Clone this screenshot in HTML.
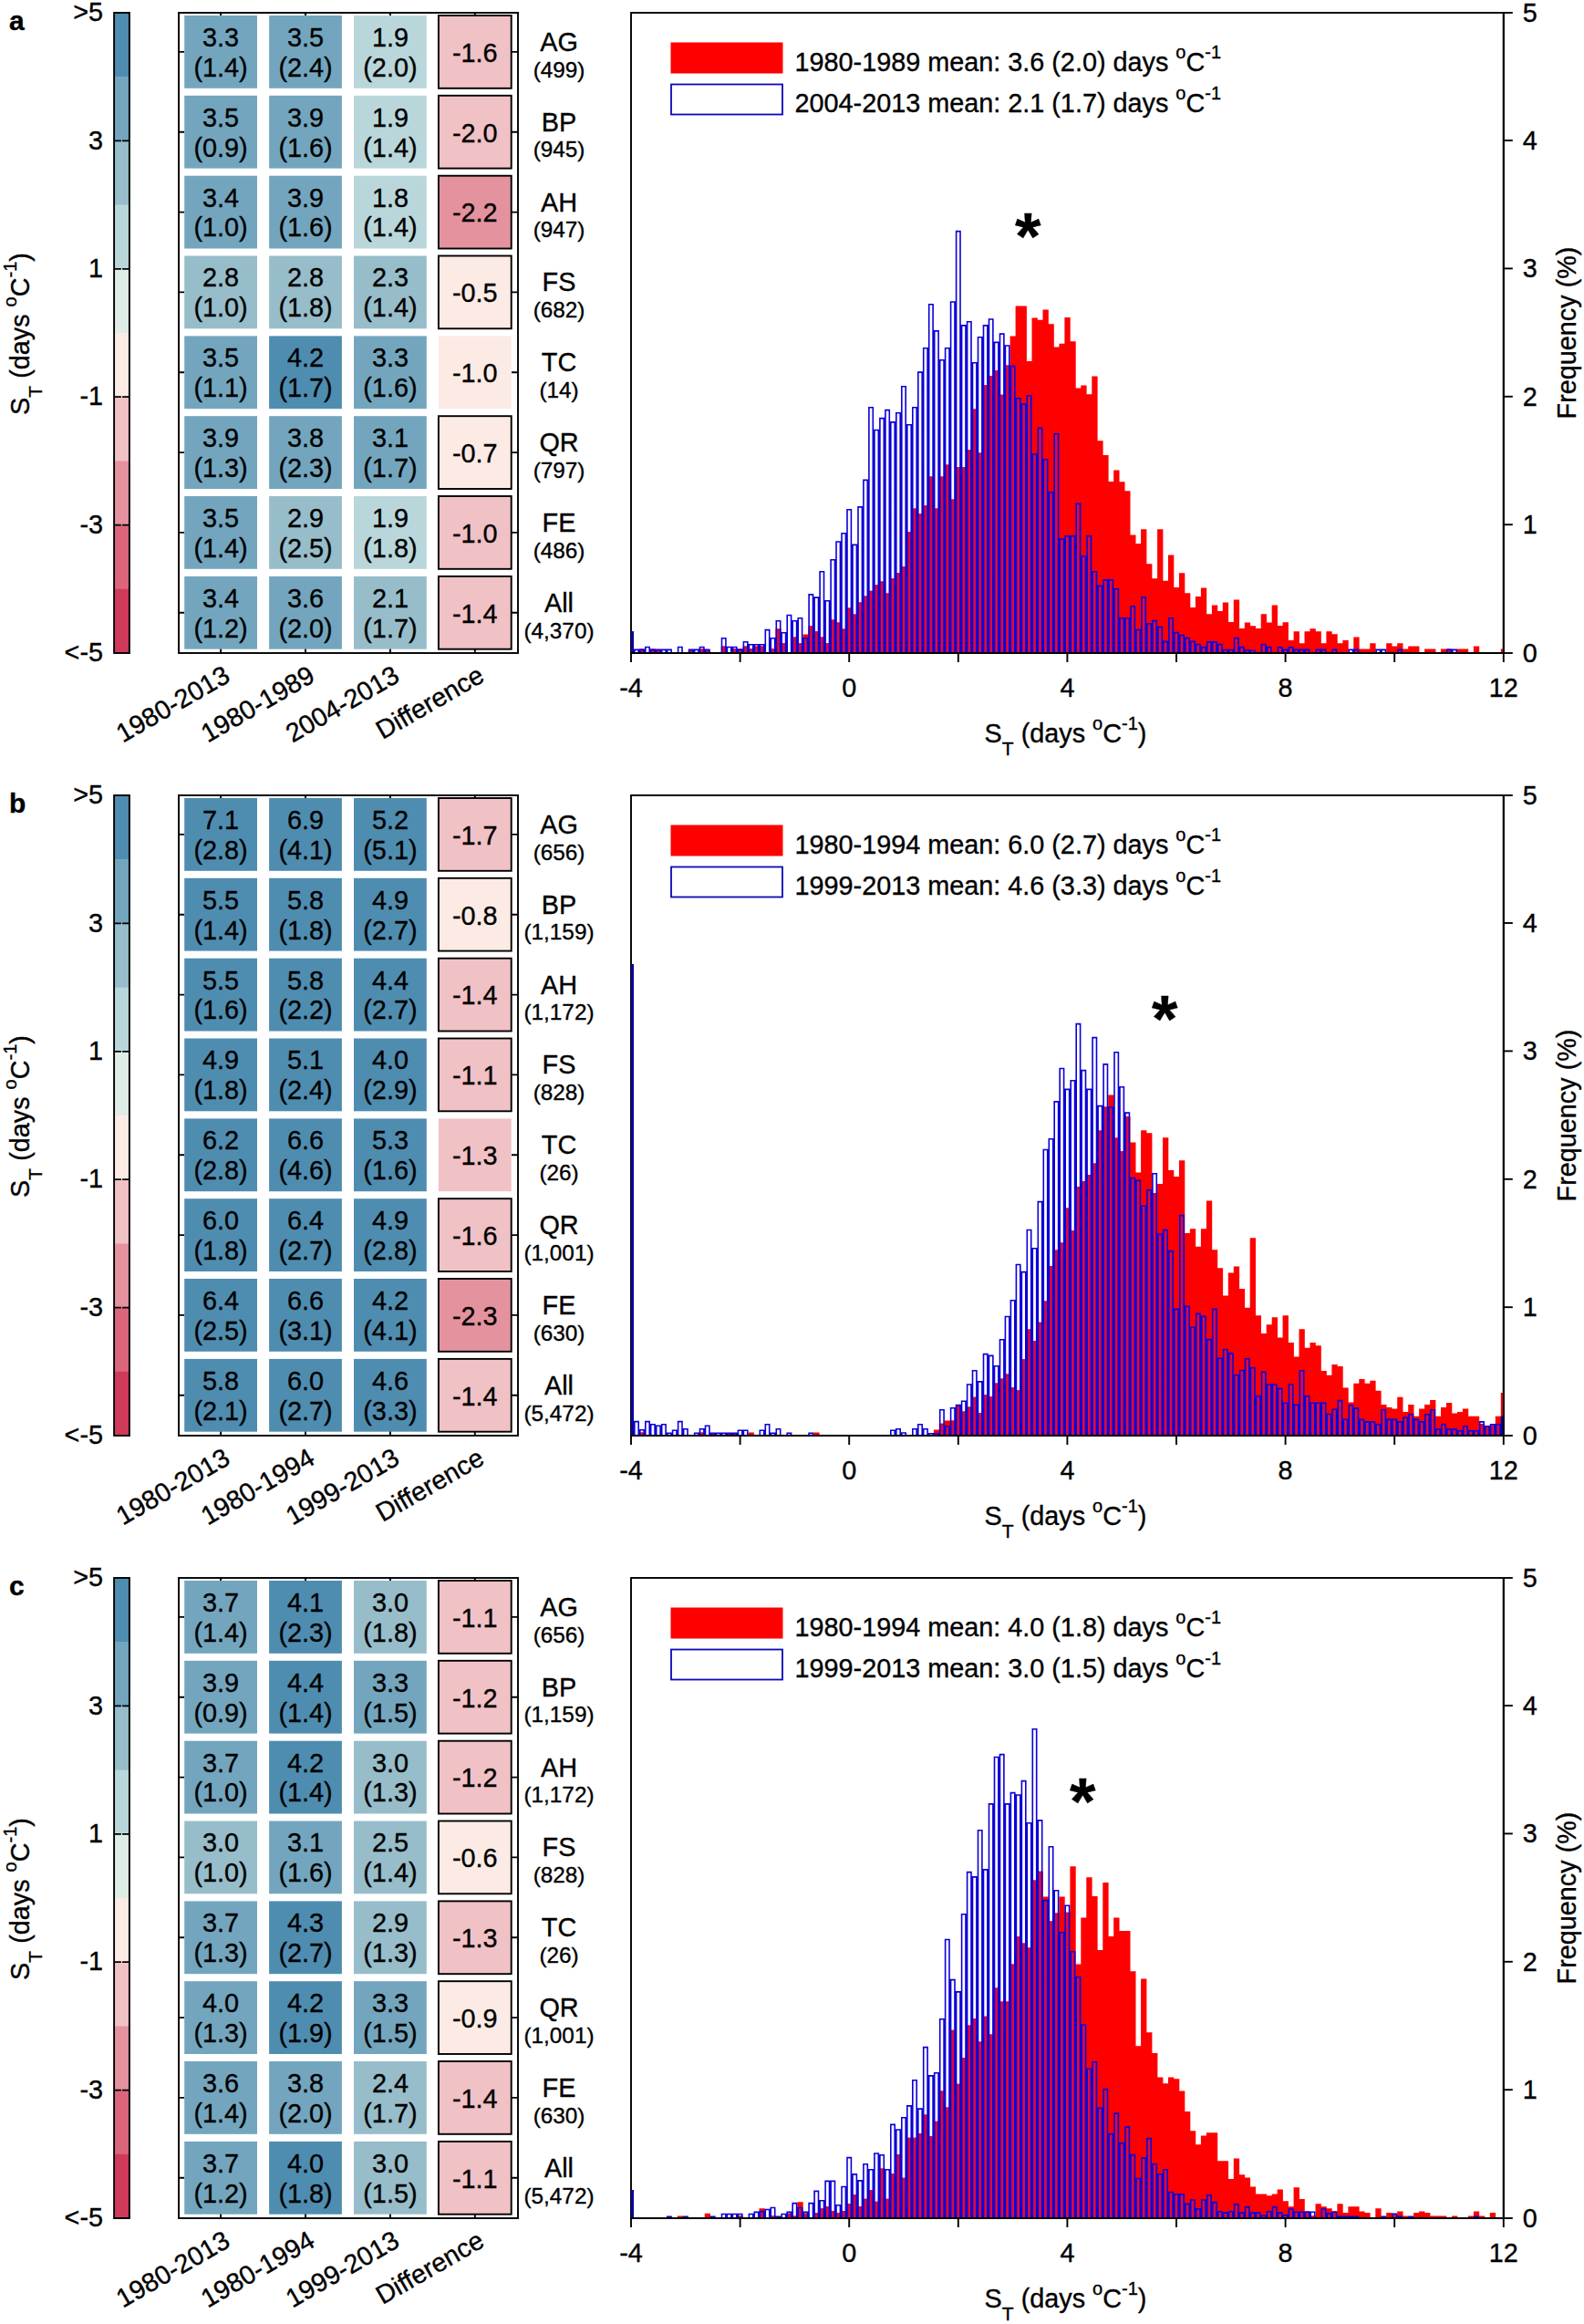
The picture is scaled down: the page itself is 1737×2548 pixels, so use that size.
<!DOCTYPE html><html><head><meta charset="utf-8"><title>Figure</title><style>html,body{margin:0;padding:0;background:#fff}svg{display:block}text{font-family:"Liberation Sans",Arial,sans-serif;font-size:28.8px;fill:#000;stroke:#000;stroke-width:.35px}.s{font-size:24.3px}.b{font-weight:bold}.k{stroke:#000;stroke-width:1.9;fill:none}</style></head><body>
<svg width="1737" height="2548" viewBox="0 0 1737 2548">
<rect width="1737" height="2548" fill="#fff"/>
<g>
<text class="b" x="10" y="32.5" style="font-size:30px">a</text>
<rect x="125.1" y="14.0" width="16.8" height="70.7" fill="#4f8db0"/>
<rect x="125.1" y="84.2" width="16.8" height="70.7" fill="#73a6be"/>
<rect x="125.1" y="154.4" width="16.8" height="70.7" fill="#97bdca"/>
<rect x="125.1" y="224.6" width="16.8" height="70.7" fill="#b9d7db"/>
<rect x="125.1" y="294.8" width="16.8" height="70.7" fill="#deede6"/>
<rect x="125.1" y="365.0" width="16.8" height="70.7" fill="#fcebe4"/>
<rect x="125.1" y="435.2" width="16.8" height="70.7" fill="#f0c1c5"/>
<rect x="125.1" y="505.4" width="16.8" height="70.7" fill="#e5929f"/>
<rect x="125.1" y="575.6" width="16.8" height="70.7" fill="#db667c"/>
<rect x="125.1" y="645.8" width="16.8" height="70.7" fill="#d03a5a"/>
<rect class="k" x="125.1" y="14" width="16.8" height="702"/>
<text x="113" y="23.2" text-anchor="end">&gt;5</text>
<path class="k" d="M125.1 154.4h7.8M141.9 154.4h-7.8" style="stroke-width:1.7"/>
<text x="113" y="163.6" text-anchor="end">3</text>
<path class="k" d="M125.1 294.8h7.8M141.9 294.8h-7.8" style="stroke-width:1.7"/>
<text x="113" y="304.0" text-anchor="end">1</text>
<path class="k" d="M125.1 435.2h7.8M141.9 435.2h-7.8" style="stroke-width:1.7"/>
<text x="113" y="444.4" text-anchor="end">-1</text>
<path class="k" d="M125.1 575.6h7.8M141.9 575.6h-7.8" style="stroke-width:1.7"/>
<text x="113" y="584.8" text-anchor="end">-3</text>
<text x="113" y="725.2" text-anchor="end">&lt;-5</text>
<text transform="translate(31.5 366) rotate(-90)" text-anchor="middle">S<tspan dy="14" style="font-size:21px">T</tspan><tspan dy="-14"> (days </tspan><tspan dy="-14" style="font-size:20px">o</tspan><tspan dy="14">C</tspan><tspan dy="-14" style="font-size:20px">-1</tspan><tspan dy="14">)</tspan></text>
<rect class="k" x="196.0" y="14" width="372.0" height="702"/>
<path class="k" d="M242.1 14v6M242.1 716v-6"/>
<text transform="translate(254.1 746) rotate(-30)" text-anchor="end">1980-2013</text>
<path class="k" d="M196.0 56.9h6M568.0 56.9h-7"/>
<text x="613" y="55.8" text-anchor="middle">AG</text>
<text class="s" x="613" y="84.6" text-anchor="middle">(499)</text>
<rect x="202.2" y="17.0" width="79.8" height="79.8" fill="#73a6be"/>
<text x="242.1" y="50.8" text-anchor="middle">3.3</text>
<text x="242.1" y="83.7" text-anchor="middle">(1.4)</text>
<path class="k" d="M196.0 144.7h6M568.0 144.7h-7"/>
<text x="613" y="143.6" text-anchor="middle">BP</text>
<text class="s" x="613" y="172.4" text-anchor="middle">(945)</text>
<rect x="202.2" y="104.8" width="79.8" height="79.8" fill="#73a6be"/>
<text x="242.1" y="138.6" text-anchor="middle">3.5</text>
<text x="242.1" y="171.5" text-anchor="middle">(0.9)</text>
<path class="k" d="M196.0 232.6h6M568.0 232.6h-7"/>
<text x="613" y="231.5" text-anchor="middle">AH</text>
<text class="s" x="613" y="260.3" text-anchor="middle">(947)</text>
<rect x="202.2" y="192.7" width="79.8" height="79.8" fill="#73a6be"/>
<text x="242.1" y="226.5" text-anchor="middle">3.4</text>
<text x="242.1" y="259.4" text-anchor="middle">(1.0)</text>
<path class="k" d="M196.0 320.4h6M568.0 320.4h-7"/>
<text x="613" y="319.3" text-anchor="middle">FS</text>
<text class="s" x="613" y="348.1" text-anchor="middle">(682)</text>
<rect x="202.2" y="280.5" width="79.8" height="79.8" fill="#97bdca"/>
<text x="242.1" y="314.3" text-anchor="middle">2.8</text>
<text x="242.1" y="347.2" text-anchor="middle">(1.0)</text>
<path class="k" d="M196.0 408.3h6M568.0 408.3h-7"/>
<text x="613" y="407.2" text-anchor="middle">TC</text>
<text class="s" x="613" y="436.0" text-anchor="middle">(14)</text>
<rect x="202.2" y="368.4" width="79.8" height="79.8" fill="#73a6be"/>
<text x="242.1" y="402.2" text-anchor="middle">3.5</text>
<text x="242.1" y="435.1" text-anchor="middle">(1.1)</text>
<path class="k" d="M196.0 496.1h6M568.0 496.1h-7"/>
<text x="613" y="495.0" text-anchor="middle">QR</text>
<text class="s" x="613" y="523.8" text-anchor="middle">(797)</text>
<rect x="202.2" y="456.2" width="79.8" height="79.8" fill="#73a6be"/>
<text x="242.1" y="490.0" text-anchor="middle">3.9</text>
<text x="242.1" y="522.9" text-anchor="middle">(1.3)</text>
<path class="k" d="M196.0 583.9h6M568.0 583.9h-7"/>
<text x="613" y="582.8" text-anchor="middle">FE</text>
<text class="s" x="613" y="611.6" text-anchor="middle">(486)</text>
<rect x="202.2" y="544.0" width="79.8" height="79.8" fill="#73a6be"/>
<text x="242.1" y="577.8" text-anchor="middle">3.5</text>
<text x="242.1" y="610.7" text-anchor="middle">(1.4)</text>
<path class="k" d="M196.0 671.8h6M568.0 671.8h-7"/>
<text x="613" y="670.7" text-anchor="middle">All</text>
<text class="s" x="613" y="699.5" text-anchor="middle">(4,370)</text>
<rect x="202.2" y="631.9" width="79.8" height="79.8" fill="#73a6be"/>
<text x="242.1" y="665.7" text-anchor="middle">3.4</text>
<text x="242.1" y="698.6" text-anchor="middle">(1.2)</text>
<path class="k" d="M335.0 14v6M335.0 716v-6"/>
<text transform="translate(347.0 746) rotate(-30)" text-anchor="end">1980-1989</text>
<rect x="295.1" y="17.0" width="79.8" height="79.8" fill="#73a6be"/>
<text x="335.0" y="50.8" text-anchor="middle">3.5</text>
<text x="335.0" y="83.7" text-anchor="middle">(2.4)</text>
<rect x="295.1" y="104.8" width="79.8" height="79.8" fill="#73a6be"/>
<text x="335.0" y="138.6" text-anchor="middle">3.9</text>
<text x="335.0" y="171.5" text-anchor="middle">(1.6)</text>
<rect x="295.1" y="192.7" width="79.8" height="79.8" fill="#73a6be"/>
<text x="335.0" y="226.5" text-anchor="middle">3.9</text>
<text x="335.0" y="259.4" text-anchor="middle">(1.6)</text>
<rect x="295.1" y="280.5" width="79.8" height="79.8" fill="#97bdca"/>
<text x="335.0" y="314.3" text-anchor="middle">2.8</text>
<text x="335.0" y="347.2" text-anchor="middle">(1.8)</text>
<rect x="295.1" y="368.4" width="79.8" height="79.8" fill="#4f8db0"/>
<text x="335.0" y="402.2" text-anchor="middle">4.2</text>
<text x="335.0" y="435.1" text-anchor="middle">(1.7)</text>
<rect x="295.1" y="456.2" width="79.8" height="79.8" fill="#73a6be"/>
<text x="335.0" y="490.0" text-anchor="middle">3.8</text>
<text x="335.0" y="522.9" text-anchor="middle">(2.3)</text>
<rect x="295.1" y="544.0" width="79.8" height="79.8" fill="#97bdca"/>
<text x="335.0" y="577.8" text-anchor="middle">2.9</text>
<text x="335.0" y="610.7" text-anchor="middle">(2.5)</text>
<rect x="295.1" y="631.9" width="79.8" height="79.8" fill="#73a6be"/>
<text x="335.0" y="665.7" text-anchor="middle">3.6</text>
<text x="335.0" y="698.6" text-anchor="middle">(2.0)</text>
<path class="k" d="M427.9 14v6M427.9 716v-6"/>
<text transform="translate(439.9 746) rotate(-30)" text-anchor="end">2004-2013</text>
<rect x="388.0" y="17.0" width="79.8" height="79.8" fill="#b9d7db"/>
<text x="427.9" y="50.8" text-anchor="middle">1.9</text>
<text x="427.9" y="83.7" text-anchor="middle">(2.0)</text>
<rect x="388.0" y="104.8" width="79.8" height="79.8" fill="#b9d7db"/>
<text x="427.9" y="138.6" text-anchor="middle">1.9</text>
<text x="427.9" y="171.5" text-anchor="middle">(1.4)</text>
<rect x="388.0" y="192.7" width="79.8" height="79.8" fill="#b9d7db"/>
<text x="427.9" y="226.5" text-anchor="middle">1.8</text>
<text x="427.9" y="259.4" text-anchor="middle">(1.4)</text>
<rect x="388.0" y="280.5" width="79.8" height="79.8" fill="#97bdca"/>
<text x="427.9" y="314.3" text-anchor="middle">2.3</text>
<text x="427.9" y="347.2" text-anchor="middle">(1.4)</text>
<rect x="388.0" y="368.4" width="79.8" height="79.8" fill="#73a6be"/>
<text x="427.9" y="402.2" text-anchor="middle">3.3</text>
<text x="427.9" y="435.1" text-anchor="middle">(1.6)</text>
<rect x="388.0" y="456.2" width="79.8" height="79.8" fill="#73a6be"/>
<text x="427.9" y="490.0" text-anchor="middle">3.1</text>
<text x="427.9" y="522.9" text-anchor="middle">(1.7)</text>
<rect x="388.0" y="544.0" width="79.8" height="79.8" fill="#b9d7db"/>
<text x="427.9" y="577.8" text-anchor="middle">1.9</text>
<text x="427.9" y="610.7" text-anchor="middle">(1.8)</text>
<rect x="388.0" y="631.9" width="79.8" height="79.8" fill="#97bdca"/>
<text x="427.9" y="665.7" text-anchor="middle">2.1</text>
<text x="427.9" y="698.6" text-anchor="middle">(1.7)</text>
<path class="k" d="M520.8 14v6M520.8 716v-6"/>
<text transform="translate(532.8 746) rotate(-30)" text-anchor="end">Difference</text>
<rect x="480.9" y="17.0" width="79.8" height="79.8" fill="#f0c1c5" stroke="#000" stroke-width="1.9"/>
<text x="520.8" y="67.7" text-anchor="middle">-1.6</text>
<rect x="480.9" y="104.8" width="79.8" height="79.8" fill="#f0c1c5" stroke="#000" stroke-width="1.9"/>
<text x="520.8" y="155.5" text-anchor="middle">-2.0</text>
<rect x="480.9" y="192.7" width="79.8" height="79.8" fill="#e5929f" stroke="#000" stroke-width="1.9"/>
<text x="520.8" y="243.4" text-anchor="middle">-2.2</text>
<rect x="480.9" y="280.5" width="79.8" height="79.8" fill="#fcebe4" stroke="#000" stroke-width="1.9"/>
<text x="520.8" y="331.2" text-anchor="middle">-0.5</text>
<rect x="480.9" y="368.4" width="79.8" height="79.8" fill="#fcebe4"/>
<text x="520.8" y="419.1" text-anchor="middle">-1.0</text>
<rect x="480.9" y="456.2" width="79.8" height="79.8" fill="#fcebe4" stroke="#000" stroke-width="1.9"/>
<text x="520.8" y="506.9" text-anchor="middle">-0.7</text>
<rect x="480.9" y="544.0" width="79.8" height="79.8" fill="#f0c1c5" stroke="#000" stroke-width="1.9"/>
<text x="520.8" y="594.7" text-anchor="middle">-1.0</text>
<rect x="480.9" y="631.9" width="79.8" height="79.8" fill="#f0c1c5" stroke="#000" stroke-width="1.9"/>
<text x="520.8" y="682.6" text-anchor="middle">-1.4</text>
<rect class="k" x="692.0" y="14" width="956.8" height="702"/>
<clipPath id="cpa"><rect x="692.0" y="14" width="956.8" height="702"/></clipPath>
<g clip-path="url(#cpa)">
<path d="M701.0 716V711.6h6.3V716zM712.9 716V711.6h6.3V716zM718.9 716V713.0h6.3V716zM754.8 716V713.0h6.3V716zM766.8 716V711.6h6.3V716zM772.7 716V713.0h6.3V716zM790.7 716V708.4h6.3V716zM802.6 716V711.3h6.3V716zM808.6 716V711.6h6.3V716zM814.6 716V708.4h6.3V716zM820.6 716V711.3h6.3V716zM826.5 716V708.4h6.3V716zM832.5 716V708.4h6.3V716zM844.5 716V711.3h6.3V716zM850.5 716V689.5h6.3V716zM856.5 716V705.3h6.3V716zM868.4 716V698.6h6.3V716zM874.4 716V705.3h6.3V716zM880.4 716V695.5h6.3V716zM886.4 716V686.3h6.3V716zM892.3 716V692.3h6.3V716zM898.3 716V698.6h6.3V716zM904.3 716V705.3h6.3V716zM910.3 716V679.5h6.3V716zM916.2 716V682.4h6.3V716zM922.2 716V689.5h6.3V716zM928.2 716V666.5h6.3V716zM934.2 716V673.4h6.3V716zM940.2 716V660.5h6.3V716zM946.1 716V653.6h6.3V716zM952.1 716V647.8h6.3V716zM958.1 716V641.3h6.3V716zM964.1 716V637.5h6.3V716zM970.1 716V650.4h6.3V716zM976.0 716V634.2h6.3V716zM982.0 716V628.2h6.3V716zM988.0 716V621.3h6.3V716zM994.0 716V583.3h6.3V716zM1000.0 716V557.4h6.3V716zM1006.0 716V563.2h6.3V716zM1011.9 716V554.2h6.3V716zM1017.9 716V522.4h6.3V716zM1023.9 716V557.4h6.3V716zM1029.9 716V522.4h6.3V716zM1035.8 716V509.5h6.3V716zM1041.8 716V547.5h6.3V716zM1047.8 716V512.3h6.3V716zM1053.8 716V512.3h6.3V716zM1059.8 716V493.3h6.3V716zM1065.8 716V448.6h6.3V716zM1071.7 716V496.6h6.3V716zM1077.7 716V422.3h6.3V716zM1083.7 716V412.2h6.3V716zM1089.7 716V406.2h6.3V716zM1095.7 716V432.7h6.3V716zM1101.6 716V400.4h6.3V716zM1107.6 716V368.5h6.3V716zM1113.6 716V335.6h6.3V716zM1119.6 716V335.6h6.3V716zM1125.5 716V396.1h6.3V716zM1131.5 716V348.5h6.3V716zM1137.5 716V350.7h6.3V716zM1143.5 716V339.5h6.3V716zM1149.5 716V355.2h6.3V716zM1155.5 716V380.4h6.3V716zM1161.4 716V376.8h6.3V716zM1167.4 716V348.1h6.3V716zM1173.4 716V374.2h6.3V716zM1179.4 716V425.4h6.3V716zM1185.3 716V422.4h6.3V716zM1191.3 716V432.3h6.3V716zM1197.3 716V412.5h6.3V716zM1203.3 716V483.2h6.3V716zM1209.3 716V499.1h6.3V716zM1215.2 716V528.0h6.3V716zM1221.2 716V515.4h6.3V716zM1227.2 716V528.3h6.3V716zM1233.2 716V538.3h6.3V716zM1239.2 716V586.4h6.3V716zM1245.2 716V596.0h6.3V716zM1251.1 716V580.3h6.3V716zM1257.1 716V618.2h6.3V716zM1263.1 716V634.2h6.3V716zM1269.1 716V580.3h6.3V716zM1275.0 716V636.8h6.3V716zM1281.0 716V608.4h6.3V716zM1287.0 716V644.0h6.3V716zM1293.0 716V628.2h6.3V716zM1299.0 716V650.2h6.3V716zM1304.9 716V666.1h6.3V716zM1310.9 716V654.0h6.3V716zM1316.9 716V644.5h6.3V716zM1322.9 716V673.3h6.3V716zM1328.9 716V663.5h6.3V716zM1334.8 716V669.9h6.3V716zM1340.8 716V660.6h6.3V716zM1346.8 716V682.1h6.3V716zM1352.8 716V657.5h6.3V716zM1358.8 716V689.0h6.3V716zM1364.8 716V682.4h6.3V716zM1370.7 716V686.2h6.3V716zM1376.7 716V689.0h6.3V716zM1382.7 716V673.3h6.3V716zM1388.7 716V682.4h6.3V716zM1394.7 716V663.5h6.3V716zM1400.6 716V685.9h6.3V716zM1406.6 716V682.2h6.3V716zM1412.6 716V702.1h6.3V716zM1418.6 716V692.2h6.3V716zM1424.5 716V705.2h6.3V716zM1430.5 716V692.2h6.3V716zM1436.5 716V689.2h6.3V716zM1442.5 716V692.2h6.3V716zM1448.5 716V705.2h6.3V716zM1454.4 716V692.2h6.3V716zM1460.4 716V695.2h6.3V716zM1466.4 716V705.2h6.3V716zM1472.4 716V702.1h6.3V716zM1484.3 716V698.4h6.3V716zM1490.3 716V711.6h6.3V716zM1496.3 716V711.6h6.3V716zM1502.3 716V705.2h6.3V716zM1520.2 716V705.2h6.3V716zM1526.2 716V708.4h6.3V716zM1532.2 716V705.2h6.3V716zM1538.2 716V711.6h6.3V716zM1544.2 716V708.4h6.3V716zM1550.1 716V708.4h6.3V716zM1562.1 716V711.6h6.3V716zM1568.1 716V711.6h6.3V716zM1580.0 716V711.6h6.3V716zM1586.0 716V711.6h6.3V716zM1598.0 716V711.6h6.3V716zM1603.9 716V711.6h6.3V716zM1615.9 716V708.4h6.3V716zM1645.8 716V711.6h6.3V716z" fill="#fe0000"/>
<path d="M702.5 716V711.6h3.0V716zM714.4 716V711.6h3.0V716zM720.4 716V713.0h3.0V716zM756.3 716V713.0h3.0V716zM768.2 716V711.6h3.0V716zM774.2 716V713.0h3.0V716zM792.2 716V708.4h3.0V716zM804.1 716V711.3h3.0V716zM810.1 716V711.6h3.0V716zM816.1 716V708.4h3.0V716zM822.1 716V711.3h3.0V716zM828.0 716V708.4h3.0V716zM834.0 716V708.4h3.0V716zM846.0 716V711.3h3.0V716zM852.0 716V689.5h3.0V716zM858.0 716V705.3h3.0V716zM869.9 716V698.6h3.0V716zM875.9 716V705.3h3.0V716zM881.9 716V699.0h3.0V716zM887.9 716V686.3h3.0V716zM893.8 716V692.3h3.0V716zM899.8 716V698.6h3.0V716zM905.8 716V705.3h3.0V716zM911.8 716V679.5h3.0V716zM917.8 716V682.4h3.0V716zM923.7 716V689.5h3.0V716zM929.7 716V666.5h3.0V716zM935.7 716V673.4h3.0V716zM941.7 716V660.5h3.0V716zM947.6 716V653.6h3.0V716zM953.6 716V647.8h3.0V716zM959.6 716V641.3h3.0V716zM965.6 716V637.5h3.0V716zM971.6 716V650.4h3.0V716zM977.5 716V634.2h3.0V716zM983.5 716V628.2h3.0V716zM989.5 716V621.3h3.0V716zM995.5 716V583.3h3.0V716zM1001.5 716V557.4h3.0V716zM1007.5 716V563.2h3.0V716zM1013.4 716V554.2h3.0V716zM1019.4 716V522.4h3.0V716zM1025.4 716V557.4h3.0V716zM1031.4 716V522.4h3.0V716zM1037.3 716V509.5h3.0V716zM1043.3 716V547.5h3.0V716zM1049.3 716V512.3h3.0V716zM1055.3 716V512.3h3.0V716zM1061.3 716V493.3h3.0V716zM1067.2 716V448.6h3.0V716zM1073.2 716V496.6h3.0V716zM1079.2 716V422.3h3.0V716zM1085.2 716V412.2h3.0V716zM1091.2 716V406.2h3.0V716zM1097.2 716V432.7h3.0V716zM1103.1 716V400.4h3.0V716zM1109.1 716V400.8h3.0V716zM1115.1 716V435.9h3.0V716zM1121.1 716V442.3h3.0V716zM1127.0 716V433.1h3.0V716zM1133.0 716V497.2h3.0V716zM1139.0 716V468.6h3.0V716zM1145.0 716V503.0h3.0V716zM1151.0 716V539.1h3.0V716zM1157.0 716V475.0h3.0V716zM1162.9 716V590.3h3.0V716zM1168.9 716V586.9h3.0V716zM1174.9 716V586.9h3.0V716zM1180.9 716V551.6h3.0V716zM1186.8 716V609.3h3.0V716zM1192.8 716V586.9h3.0V716zM1198.8 716V626.0h3.0V716zM1204.8 716V641.6h3.0V716zM1210.8 716V635.1h3.0V716zM1216.8 716V635.1h3.0V716zM1222.7 716V644.9h3.0V716zM1228.7 716V676.9h3.0V716zM1234.7 716V676.9h3.0V716zM1240.7 716V664.0h3.0V716zM1246.7 716V689.7h3.0V716zM1252.6 716V654.0h3.0V716zM1258.6 716V682.9h3.0V716zM1264.6 716V679.8h3.0V716zM1270.6 716V686.7h3.0V716zM1276.5 716V702.6h3.0V716zM1282.5 716V676.9h3.0V716zM1288.5 716V692.8h3.0V716zM1294.5 716V695.7h3.0V716zM1300.5 716V698.8h3.0V716zM1306.4 716V702.6h3.0V716zM1312.4 716V705.7h3.0V716zM1318.4 716V708.8h3.0V716zM1324.4 716V703.1h3.0V716zM1330.4 716V703.1h3.0V716zM1336.3 716V705.7h3.0V716zM1342.3 716V711.7h3.0V716zM1348.3 716V711.7h3.0V716zM1354.3 716V698.8h3.0V716zM1360.3 716V708.8h3.0V716zM1366.2 716V712.2h3.0V716zM1372.2 716V712.2h3.0V716zM1384.2 716V705.7h3.0V716zM1390.2 716V708.8h3.0V716zM1402.1 716V709.0h3.0V716zM1408.1 716V711.6h3.0V716zM1414.1 716V709.0h3.0V716zM1420.1 716V711.6h3.0V716zM1426.0 716V711.6h3.0V716zM1432.0 716V711.6h3.0V716zM1444.0 716V711.6h3.0V716zM1450.0 716V711.6h3.0V716zM1461.9 716V711.6h3.0V716zM1485.8 716V711.6h3.0V716zM1533.7 716V711.6h3.0V716zM1587.5 716V711.6h3.0V716z" fill="#dc0a3c"/>
<path d="M689.8 716V693.1h4.4V716M695.8 716V712.4h4.4V716M701.8 716V712.4h4.4V716M707.8 716V709.5h4.4V716M713.7 716V712.4h4.4V716M719.7 716V712.4h4.4V716M725.7 716V712.4h4.4V716M731.7 716V712.4h4.4V716M743.6 716V709.5h4.4V716M755.6 716V712.4h4.4V716M761.6 716V712.4h4.4V716M767.5 716V709.5h4.4V716M773.5 716V712.4h4.4V716M791.5 716V699.8h4.4V716M797.4 716V709.5h4.4V716M803.4 716V709.5h4.4V716M809.4 716V712.4h4.4V716M815.4 716V703.7h4.4V716M821.4 716V706.8h4.4V716M827.3 716V706.8h4.4V716M833.3 716V706.8h4.4V716M839.3 716V690.6h4.4V716M845.3 716V699.8h4.4V716M851.3 716V680.8h4.4V716M857.2 716V693.8h4.4V716M863.2 716V674.5h4.4V716M869.2 716V680.8h4.4V716M875.2 716V677.7h4.4V716M881.2 716V699.8h4.4V716M887.1 716V651.9h4.4V716M893.1 716V655.1h4.4V716M899.1 716V626.7h4.4V716M905.1 716V658.8h4.4V716M911.1 716V613.8h4.4V716M917.0 716V594.0h4.4V716M923.0 716V584.8h4.4V716M929.0 716V558.7h4.4V716M935.0 716V597.4h4.4V716M941.0 716V555.9h4.4V716M946.9 716V526.4h4.4V716M952.9 716V446.8h4.4V716M958.9 716V471.5h4.4V716M964.9 716V458.6h4.4V716M970.9 716V449.6h4.4V716M976.8 716V462.9h4.4V716M982.8 716V452.8h4.4V716M988.8 716V423.8h4.4V716M994.8 716V465.7h4.4V716M1000.8 716V446.8h4.4V716M1006.8 716V408.1h4.4V716M1012.7 716V381.8h4.4V716M1018.7 716V333.8h4.4V716M1024.7 716V362.9h4.4V716M1030.7 716V394.7h4.4V716M1036.6 716V381.8h4.4V716M1042.6 716V331.0h4.4V716M1048.6 716V253.6h4.4V716M1054.6 716V356.9h4.4V716M1060.6 716V352.8h4.4V716M1066.5 716V397.7h4.4V716M1072.5 716V369.8h4.4V716M1078.5 716V356.9h4.4V716M1084.5 716V350.0h4.4V716M1090.5 716V375.4h4.4V716M1096.5 716V366.1h4.4V716M1102.4 716V379.0h4.4V716M1108.4 716V401.6h4.4V716M1114.4 716V436.7h4.4V716M1120.4 716V443.1h4.4V716M1126.3 716V433.9h4.4V716M1132.3 716V498.0h4.4V716M1138.3 716V469.4h4.4V716M1144.3 716V503.8h4.4V716M1150.3 716V539.9h4.4V716M1156.2 716V475.8h4.4V716M1162.2 716V591.1h4.4V716M1168.2 716V587.7h4.4V716M1174.2 716V587.7h4.4V716M1180.2 716V552.4h4.4V716M1186.1 716V610.1h4.4V716M1192.1 716V587.7h4.4V716M1198.1 716V626.8h4.4V716M1204.1 716V642.4h4.4V716M1210.1 716V635.9h4.4V716M1216.0 716V635.9h4.4V716M1222.0 716V645.7h4.4V716M1228.0 716V677.7h4.4V716M1234.0 716V677.7h4.4V716M1240.0 716V664.8h4.4V716M1246.0 716V690.5h4.4V716M1251.9 716V654.8h4.4V716M1257.9 716V683.7h4.4V716M1263.9 716V680.6h4.4V716M1269.9 716V687.5h4.4V716M1275.8 716V703.4h4.4V716M1281.8 716V677.7h4.4V716M1287.8 716V693.6h4.4V716M1293.8 716V696.5h4.4V716M1299.8 716V699.6h4.4V716M1305.7 716V703.4h4.4V716M1311.7 716V706.5h4.4V716M1317.7 716V709.6h4.4V716M1323.7 716V703.9h4.4V716M1329.7 716V703.9h4.4V716M1335.6 716V706.5h4.4V716M1341.6 716V712.5h4.4V716M1347.6 716V712.5h4.4V716M1353.6 716V699.6h4.4V716M1359.6 716V709.6h4.4V716M1365.5 716V713.0h4.4V716M1371.5 716V713.0h4.4V716M1383.5 716V706.5h4.4V716M1389.5 716V709.6h4.4V716M1401.4 716V709.8h4.4V716M1407.4 716V712.4h4.4V716M1413.4 716V709.8h4.4V716M1419.4 716V712.4h4.4V716M1425.3 716V712.4h4.4V716M1431.3 716V712.4h4.4V716M1443.3 716V712.4h4.4V716M1449.3 716V712.4h4.4V716M1461.2 716V712.4h4.4V716M1479.2 716V712.4h4.4V716M1485.1 716V712.4h4.4V716M1509.1 716V712.4h4.4V716M1515.0 716V712.4h4.4V716M1533.0 716V712.4h4.4V716M1586.8 716V712.4h4.4V716M1592.8 716V712.4h4.4V716" fill="none" stroke="#0c00d8" stroke-width="1.6"/>
<rect x="691.2" y="692.3" width="3.8" height="23.7" fill="#0a00a0"/>
</g>
<path class="k" d="M692.0 716H1648.8V14"/>
<path class="k" d="M692.0 716v10"/>
<text x="692.0" y="763.5" text-anchor="middle">-4</text>
<path class="k" d="M811.6 716v10"/>
<path class="k" d="M931.2 716v10"/>
<text x="931.2" y="763.5" text-anchor="middle">0</text>
<path class="k" d="M1050.8 716v10"/>
<path class="k" d="M1170.4 716v10"/>
<text x="1170.4" y="763.5" text-anchor="middle">4</text>
<path class="k" d="M1290.0 716v10"/>
<path class="k" d="M1409.6 716v10"/>
<text x="1409.6" y="763.5" text-anchor="middle">8</text>
<path class="k" d="M1529.2 716v10"/>
<path class="k" d="M1648.8 716v10"/>
<text x="1648.8" y="763.5" text-anchor="middle">12</text>
<path class="k" d="M1648.8 716.0h10"/>
<text x="1669.8" y="726.0">0</text>
<path class="k" d="M1648.8 575.2h10"/>
<text x="1669.8" y="585.2">1</text>
<path class="k" d="M1648.8 434.8h10"/>
<text x="1669.8" y="444.8">2</text>
<path class="k" d="M1648.8 294.4h10"/>
<text x="1669.8" y="304.4">3</text>
<path class="k" d="M1648.8 154.0h10"/>
<text x="1669.8" y="164.0">4</text>
<path class="k" d="M1648.8 14.0h10"/>
<text x="1669.8" y="24.0">5</text>
<text transform="translate(1728 365) rotate(-90)" text-anchor="middle">Frequency (%)</text>
<text x="1168.5" y="814" text-anchor="middle">S<tspan dy="14" style="font-size:21px">T</tspan><tspan dy="-14"> (days </tspan><tspan dy="-14" style="font-size:20px">o</tspan><tspan dy="14">C</tspan><tspan dy="-14" style="font-size:20px">-1</tspan><tspan dy="14">)</tspan></text>
<rect x="735.5" y="46.5" width="123" height="34" fill="#fe0000"/>
<rect x="736" y="92.5" width="122" height="33" fill="#fff" stroke="#0c08b4" stroke-width="1.8"/>
<text x="871.5" y="77.7">1980-1989 mean: 3.6 (2.0) days <tspan dy="-14" style="font-size:20px">o</tspan><tspan dy="14">C</tspan><tspan dy="-14" style="font-size:20px">-1</tspan></text>
<text x="871.5" y="123.2">2004-2013 mean: 2.1 (1.7) days <tspan dy="-14" style="font-size:20px">o</tspan><tspan dy="14">C</tspan><tspan dy="-14" style="font-size:20px">-1</tspan></text>
<text class="b" x="1127.1" y="284.4" text-anchor="middle" style="font-size:73px">*</text>
</g>
<g>
<text class="b" x="10" y="890.5" style="font-size:30px">b</text>
<rect x="125.1" y="872.0" width="16.8" height="70.7" fill="#4f8db0"/>
<rect x="125.1" y="942.2" width="16.8" height="70.7" fill="#73a6be"/>
<rect x="125.1" y="1012.4" width="16.8" height="70.7" fill="#97bdca"/>
<rect x="125.1" y="1082.6" width="16.8" height="70.7" fill="#b9d7db"/>
<rect x="125.1" y="1152.8" width="16.8" height="70.7" fill="#deede6"/>
<rect x="125.1" y="1223.0" width="16.8" height="70.7" fill="#fcebe4"/>
<rect x="125.1" y="1293.2" width="16.8" height="70.7" fill="#f0c1c5"/>
<rect x="125.1" y="1363.4" width="16.8" height="70.7" fill="#e5929f"/>
<rect x="125.1" y="1433.6" width="16.8" height="70.7" fill="#db667c"/>
<rect x="125.1" y="1503.8" width="16.8" height="70.7" fill="#d03a5a"/>
<rect class="k" x="125.1" y="872" width="16.8" height="702"/>
<text x="113" y="881.2" text-anchor="end">&gt;5</text>
<path class="k" d="M125.1 1012.4h7.8M141.9 1012.4h-7.8" style="stroke-width:1.7"/>
<text x="113" y="1021.6" text-anchor="end">3</text>
<path class="k" d="M125.1 1152.8h7.8M141.9 1152.8h-7.8" style="stroke-width:1.7"/>
<text x="113" y="1162.0" text-anchor="end">1</text>
<path class="k" d="M125.1 1293.2h7.8M141.9 1293.2h-7.8" style="stroke-width:1.7"/>
<text x="113" y="1302.4" text-anchor="end">-1</text>
<path class="k" d="M125.1 1433.6h7.8M141.9 1433.6h-7.8" style="stroke-width:1.7"/>
<text x="113" y="1442.8" text-anchor="end">-3</text>
<text x="113" y="1583.2" text-anchor="end">&lt;-5</text>
<text transform="translate(31.5 1224) rotate(-90)" text-anchor="middle">S<tspan dy="14" style="font-size:21px">T</tspan><tspan dy="-14"> (days </tspan><tspan dy="-14" style="font-size:20px">o</tspan><tspan dy="14">C</tspan><tspan dy="-14" style="font-size:20px">-1</tspan><tspan dy="14">)</tspan></text>
<rect class="k" x="196.0" y="872" width="372.0" height="702"/>
<path class="k" d="M242.1 872v6M242.1 1574v-6"/>
<text transform="translate(254.1 1604) rotate(-30)" text-anchor="end">1980-2013</text>
<path class="k" d="M196.0 914.9h6M568.0 914.9h-7"/>
<text x="613" y="913.8" text-anchor="middle">AG</text>
<text class="s" x="613" y="942.6" text-anchor="middle">(656)</text>
<rect x="202.2" y="875.0" width="79.8" height="79.8" fill="#4f8db0"/>
<text x="242.1" y="908.8" text-anchor="middle">7.1</text>
<text x="242.1" y="941.7" text-anchor="middle">(2.8)</text>
<path class="k" d="M196.0 1002.7h6M568.0 1002.7h-7"/>
<text x="613" y="1001.6" text-anchor="middle">BP</text>
<text class="s" x="613" y="1030.4" text-anchor="middle">(1,159)</text>
<rect x="202.2" y="962.8" width="79.8" height="79.8" fill="#4f8db0"/>
<text x="242.1" y="996.6" text-anchor="middle">5.5</text>
<text x="242.1" y="1029.5" text-anchor="middle">(1.4)</text>
<path class="k" d="M196.0 1090.6h6M568.0 1090.6h-7"/>
<text x="613" y="1089.5" text-anchor="middle">AH</text>
<text class="s" x="613" y="1118.3" text-anchor="middle">(1,172)</text>
<rect x="202.2" y="1050.7" width="79.8" height="79.8" fill="#4f8db0"/>
<text x="242.1" y="1084.5" text-anchor="middle">5.5</text>
<text x="242.1" y="1117.4" text-anchor="middle">(1.6)</text>
<path class="k" d="M196.0 1178.4h6M568.0 1178.4h-7"/>
<text x="613" y="1177.3" text-anchor="middle">FS</text>
<text class="s" x="613" y="1206.1" text-anchor="middle">(828)</text>
<rect x="202.2" y="1138.5" width="79.8" height="79.8" fill="#4f8db0"/>
<text x="242.1" y="1172.3" text-anchor="middle">4.9</text>
<text x="242.1" y="1205.2" text-anchor="middle">(1.8)</text>
<path class="k" d="M196.0 1266.3h6M568.0 1266.3h-7"/>
<text x="613" y="1265.2" text-anchor="middle">TC</text>
<text class="s" x="613" y="1294.0" text-anchor="middle">(26)</text>
<rect x="202.2" y="1226.4" width="79.8" height="79.8" fill="#4f8db0"/>
<text x="242.1" y="1260.2" text-anchor="middle">6.2</text>
<text x="242.1" y="1293.1" text-anchor="middle">(2.8)</text>
<path class="k" d="M196.0 1354.1h6M568.0 1354.1h-7"/>
<text x="613" y="1353.0" text-anchor="middle">QR</text>
<text class="s" x="613" y="1381.8" text-anchor="middle">(1,001)</text>
<rect x="202.2" y="1314.2" width="79.8" height="79.8" fill="#4f8db0"/>
<text x="242.1" y="1348.0" text-anchor="middle">6.0</text>
<text x="242.1" y="1380.9" text-anchor="middle">(1.8)</text>
<path class="k" d="M196.0 1441.9h6M568.0 1441.9h-7"/>
<text x="613" y="1440.8" text-anchor="middle">FE</text>
<text class="s" x="613" y="1469.6" text-anchor="middle">(630)</text>
<rect x="202.2" y="1402.0" width="79.8" height="79.8" fill="#4f8db0"/>
<text x="242.1" y="1435.8" text-anchor="middle">6.4</text>
<text x="242.1" y="1468.7" text-anchor="middle">(2.5)</text>
<path class="k" d="M196.0 1529.8h6M568.0 1529.8h-7"/>
<text x="613" y="1528.7" text-anchor="middle">All</text>
<text class="s" x="613" y="1557.5" text-anchor="middle">(5,472)</text>
<rect x="202.2" y="1489.9" width="79.8" height="79.8" fill="#4f8db0"/>
<text x="242.1" y="1523.7" text-anchor="middle">5.8</text>
<text x="242.1" y="1556.6" text-anchor="middle">(2.1)</text>
<path class="k" d="M335.0 872v6M335.0 1574v-6"/>
<text transform="translate(347.0 1604) rotate(-30)" text-anchor="end">1980-1994</text>
<rect x="295.1" y="875.0" width="79.8" height="79.8" fill="#4f8db0"/>
<text x="335.0" y="908.8" text-anchor="middle">6.9</text>
<text x="335.0" y="941.7" text-anchor="middle">(4.1)</text>
<rect x="295.1" y="962.8" width="79.8" height="79.8" fill="#4f8db0"/>
<text x="335.0" y="996.6" text-anchor="middle">5.8</text>
<text x="335.0" y="1029.5" text-anchor="middle">(1.8)</text>
<rect x="295.1" y="1050.7" width="79.8" height="79.8" fill="#4f8db0"/>
<text x="335.0" y="1084.5" text-anchor="middle">5.8</text>
<text x="335.0" y="1117.4" text-anchor="middle">(2.2)</text>
<rect x="295.1" y="1138.5" width="79.8" height="79.8" fill="#4f8db0"/>
<text x="335.0" y="1172.3" text-anchor="middle">5.1</text>
<text x="335.0" y="1205.2" text-anchor="middle">(2.4)</text>
<rect x="295.1" y="1226.4" width="79.8" height="79.8" fill="#4f8db0"/>
<text x="335.0" y="1260.2" text-anchor="middle">6.6</text>
<text x="335.0" y="1293.1" text-anchor="middle">(4.6)</text>
<rect x="295.1" y="1314.2" width="79.8" height="79.8" fill="#4f8db0"/>
<text x="335.0" y="1348.0" text-anchor="middle">6.4</text>
<text x="335.0" y="1380.9" text-anchor="middle">(2.7)</text>
<rect x="295.1" y="1402.0" width="79.8" height="79.8" fill="#4f8db0"/>
<text x="335.0" y="1435.8" text-anchor="middle">6.6</text>
<text x="335.0" y="1468.7" text-anchor="middle">(3.1)</text>
<rect x="295.1" y="1489.9" width="79.8" height="79.8" fill="#4f8db0"/>
<text x="335.0" y="1523.7" text-anchor="middle">6.0</text>
<text x="335.0" y="1556.6" text-anchor="middle">(2.7)</text>
<path class="k" d="M427.9 872v6M427.9 1574v-6"/>
<text transform="translate(439.9 1604) rotate(-30)" text-anchor="end">1999-2013</text>
<rect x="388.0" y="875.0" width="79.8" height="79.8" fill="#4f8db0"/>
<text x="427.9" y="908.8" text-anchor="middle">5.2</text>
<text x="427.9" y="941.7" text-anchor="middle">(5.1)</text>
<rect x="388.0" y="962.8" width="79.8" height="79.8" fill="#4f8db0"/>
<text x="427.9" y="996.6" text-anchor="middle">4.9</text>
<text x="427.9" y="1029.5" text-anchor="middle">(2.7)</text>
<rect x="388.0" y="1050.7" width="79.8" height="79.8" fill="#4f8db0"/>
<text x="427.9" y="1084.5" text-anchor="middle">4.4</text>
<text x="427.9" y="1117.4" text-anchor="middle">(2.7)</text>
<rect x="388.0" y="1138.5" width="79.8" height="79.8" fill="#4f8db0"/>
<text x="427.9" y="1172.3" text-anchor="middle">4.0</text>
<text x="427.9" y="1205.2" text-anchor="middle">(2.9)</text>
<rect x="388.0" y="1226.4" width="79.8" height="79.8" fill="#4f8db0"/>
<text x="427.9" y="1260.2" text-anchor="middle">5.3</text>
<text x="427.9" y="1293.1" text-anchor="middle">(1.6)</text>
<rect x="388.0" y="1314.2" width="79.8" height="79.8" fill="#4f8db0"/>
<text x="427.9" y="1348.0" text-anchor="middle">4.9</text>
<text x="427.9" y="1380.9" text-anchor="middle">(2.8)</text>
<rect x="388.0" y="1402.0" width="79.8" height="79.8" fill="#4f8db0"/>
<text x="427.9" y="1435.8" text-anchor="middle">4.2</text>
<text x="427.9" y="1468.7" text-anchor="middle">(4.1)</text>
<rect x="388.0" y="1489.9" width="79.8" height="79.8" fill="#4f8db0"/>
<text x="427.9" y="1523.7" text-anchor="middle">4.6</text>
<text x="427.9" y="1556.6" text-anchor="middle">(3.3)</text>
<path class="k" d="M520.8 872v6M520.8 1574v-6"/>
<text transform="translate(532.8 1604) rotate(-30)" text-anchor="end">Difference</text>
<rect x="480.9" y="875.0" width="79.8" height="79.8" fill="#f0c1c5" stroke="#000" stroke-width="1.9"/>
<text x="520.8" y="925.7" text-anchor="middle">-1.7</text>
<rect x="480.9" y="962.8" width="79.8" height="79.8" fill="#fcebe4" stroke="#000" stroke-width="1.9"/>
<text x="520.8" y="1013.5" text-anchor="middle">-0.8</text>
<rect x="480.9" y="1050.7" width="79.8" height="79.8" fill="#f0c1c5" stroke="#000" stroke-width="1.9"/>
<text x="520.8" y="1101.4" text-anchor="middle">-1.4</text>
<rect x="480.9" y="1138.5" width="79.8" height="79.8" fill="#f0c1c5" stroke="#000" stroke-width="1.9"/>
<text x="520.8" y="1189.2" text-anchor="middle">-1.1</text>
<rect x="480.9" y="1226.4" width="79.8" height="79.8" fill="#f0c1c5"/>
<text x="520.8" y="1277.1" text-anchor="middle">-1.3</text>
<rect x="480.9" y="1314.2" width="79.8" height="79.8" fill="#f0c1c5" stroke="#000" stroke-width="1.9"/>
<text x="520.8" y="1364.9" text-anchor="middle">-1.6</text>
<rect x="480.9" y="1402.0" width="79.8" height="79.8" fill="#e5929f" stroke="#000" stroke-width="1.9"/>
<text x="520.8" y="1452.7" text-anchor="middle">-2.3</text>
<rect x="480.9" y="1489.9" width="79.8" height="79.8" fill="#f0c1c5" stroke="#000" stroke-width="1.9"/>
<text x="520.8" y="1540.6" text-anchor="middle">-1.4</text>
<rect class="k" x="692.0" y="872" width="956.8" height="702"/>
<clipPath id="cpb"><rect x="692.0" y="872" width="956.8" height="702"/></clipPath>
<g clip-path="url(#cpb)">
<path d="M701.0 1574V1570.6h6.3V1574zM766.8 1574V1570.6h6.3V1574zM778.7 1574V1571.0h6.3V1574zM796.6 1574V1571.0h6.3V1574zM802.6 1574V1571.0h6.3V1574zM820.6 1574V1570.6h6.3V1574zM892.3 1574V1570.6h6.3V1574zM1023.9 1574V1567.5h6.3V1574zM1029.9 1574V1560.7h6.3V1574zM1035.8 1574V1557.6h6.3V1574zM1041.8 1574V1557.6h6.3V1574zM1047.8 1574V1540.8h6.3V1574zM1053.8 1574V1547.5h6.3V1574zM1059.8 1574V1542.5h6.3V1574zM1065.8 1574V1531.7h6.3V1574zM1071.7 1574V1549.3h6.3V1574zM1077.7 1574V1529.3h6.3V1574zM1083.7 1574V1531.3h6.3V1574zM1089.7 1574V1516.6h6.3V1574zM1095.7 1574V1511.5h6.3V1574zM1101.6 1574V1506.5h6.3V1574zM1107.6 1574V1521.2h6.3V1574zM1113.6 1574V1524.2h6.3V1574zM1119.6 1574V1490.3h6.3V1574zM1125.5 1574V1457.5h6.3V1574zM1131.5 1574V1470.1h6.3V1574zM1137.5 1574V1449.8h6.3V1574zM1143.5 1574V1426.6h6.3V1574zM1149.5 1574V1388.1h6.3V1574zM1155.5 1574V1370.5h6.3V1574zM1161.4 1574V1362.5h6.3V1574zM1167.4 1574V1324.4h6.3V1574zM1173.4 1574V1349.3h6.3V1574zM1179.4 1574V1301.2h6.3V1574zM1185.3 1574V1295.1h6.3V1574zM1191.3 1574V1288.0h6.3V1574zM1197.3 1574V1275.5h6.3V1574zM1203.3 1574V1239.5h6.3V1574zM1209.3 1574V1213.6h6.3V1574zM1215.2 1574V1200.5h6.3V1574zM1221.2 1574V1247.6h6.3V1574zM1227.2 1574V1262.2h6.3V1574zM1233.2 1574V1224.3h6.3V1574zM1239.2 1574V1252.4h6.3V1574zM1245.2 1574V1285.5h6.3V1574zM1251.1 1574V1239.3h6.3V1574zM1257.1 1574V1242.3h6.3V1574zM1263.1 1574V1307.9h6.3V1574zM1269.1 1574V1297.9h6.3V1574zM1275.0 1574V1247.3h6.3V1574zM1281.0 1574V1282.9h6.3V1574zM1287.0 1574V1289.9h6.3V1574zM1293.0 1574V1272.3h6.3V1574zM1299.0 1574V1352.1h6.3V1574zM1304.9 1574V1347.3h6.3V1574zM1310.9 1574V1366.7h6.3V1574zM1316.9 1574V1347.3h6.3V1574zM1322.9 1574V1316.4h6.3V1574zM1328.9 1574V1370.2h6.3V1574zM1334.8 1574V1390.2h6.3V1574zM1340.8 1574V1420.5h6.3V1574zM1346.8 1574V1395.5h6.3V1574zM1352.8 1574V1388.4h6.3V1574zM1358.8 1574V1413.1h6.3V1574zM1364.8 1574V1433.7h6.3V1574zM1370.7 1574V1357.3h6.3V1574zM1376.7 1574V1442.2h6.3V1574zM1382.7 1574V1462.0h6.3V1574zM1388.7 1574V1452.3h6.3V1574zM1394.7 1574V1444.3h6.3V1574zM1400.6 1574V1466.4h6.3V1574zM1406.6 1574V1442.2h6.3V1574zM1412.6 1574V1472.0h6.3V1574zM1418.6 1574V1487.5h6.3V1574zM1424.5 1574V1457.2h6.3V1574zM1430.5 1574V1477.8h6.3V1574zM1436.5 1574V1472.0h6.3V1574zM1442.5 1574V1475.2h6.3V1574zM1448.5 1574V1503.1h6.3V1574zM1454.4 1574V1507.8h6.3V1574zM1460.4 1574V1496.0h6.3V1574zM1466.4 1574V1498.1h6.3V1574zM1472.4 1574V1521.6h6.3V1574zM1478.4 1574V1537.6h6.3V1574zM1484.3 1574V1516.7h6.3V1574zM1490.3 1574V1512.1h6.3V1574zM1496.3 1574V1516.7h6.3V1574zM1502.3 1574V1513.8h6.3V1574zM1508.3 1574V1524.8h6.3V1574zM1514.2 1574V1540.0h6.3V1574zM1520.2 1574V1543.0h6.3V1574zM1526.2 1574V1544.6h6.3V1574zM1532.2 1574V1531.8h6.3V1574zM1538.2 1574V1547.9h6.3V1574zM1544.2 1574V1540.0h6.3V1574zM1550.1 1574V1552.7h6.3V1574zM1556.1 1574V1544.6h6.3V1574zM1562.1 1574V1540.0h6.3V1574zM1568.1 1574V1535.1h6.3V1574zM1574.0 1574V1552.7h6.3V1574zM1580.0 1574V1543.0h6.3V1574zM1586.0 1574V1538.1h6.3V1574zM1592.0 1574V1549.5h6.3V1574zM1598.0 1574V1547.9h6.3V1574zM1603.9 1574V1544.6h6.3V1574zM1609.9 1574V1552.7h6.3V1574zM1615.9 1574V1552.7h6.3V1574zM1621.9 1574V1560.9h6.3V1574zM1627.9 1574V1563.8h6.3V1574zM1633.8 1574V1562.2h6.3V1574zM1639.8 1574V1552.7h6.3V1574zM1645.8 1574V1526.9h6.3V1574z" fill="#fe0000"/>
<path d="M702.5 1574V1570.6h3.0V1574zM768.2 1574V1570.6h3.0V1574zM780.2 1574V1571.0h3.0V1574zM798.1 1574V1571.0h3.0V1574zM804.1 1574V1571.0h3.0V1574zM1025.4 1574V1571.0h3.0V1574zM1031.4 1574V1560.7h3.0V1574zM1037.3 1574V1563.1h3.0V1574zM1043.3 1574V1557.6h3.0V1574zM1049.3 1574V1540.8h3.0V1574zM1055.3 1574V1547.5h3.0V1574zM1061.3 1574V1542.5h3.0V1574zM1067.2 1574V1531.7h3.0V1574zM1073.2 1574V1549.3h3.0V1574zM1079.2 1574V1529.3h3.0V1574zM1085.2 1574V1531.3h3.0V1574zM1091.2 1574V1516.6h3.0V1574zM1097.2 1574V1511.5h3.0V1574zM1103.1 1574V1506.5h3.0V1574zM1109.1 1574V1521.2h3.0V1574zM1115.1 1574V1524.2h3.0V1574zM1121.1 1574V1490.3h3.0V1574zM1127.0 1574V1457.5h3.0V1574zM1133.0 1574V1470.1h3.0V1574zM1139.0 1574V1449.8h3.0V1574zM1145.0 1574V1426.6h3.0V1574zM1151.0 1574V1388.1h3.0V1574zM1157.0 1574V1370.5h3.0V1574zM1162.9 1574V1362.5h3.0V1574zM1168.9 1574V1324.4h3.0V1574zM1174.9 1574V1349.3h3.0V1574zM1180.9 1574V1301.2h3.0V1574zM1186.8 1574V1295.1h3.0V1574zM1192.8 1574V1288.0h3.0V1574zM1198.8 1574V1275.5h3.0V1574zM1204.8 1574V1239.5h3.0V1574zM1210.8 1574V1213.6h3.0V1574zM1216.8 1574V1213.2h3.0V1574zM1222.7 1574V1247.6h3.0V1574zM1228.7 1574V1262.2h3.0V1574zM1234.7 1574V1224.3h3.0V1574zM1240.7 1574V1290.8h3.0V1574zM1246.7 1574V1293.5h3.0V1574zM1252.6 1574V1321.4h3.0V1574zM1258.6 1574V1304.1h3.0V1574zM1264.6 1574V1307.9h3.0V1574zM1270.6 1574V1352.6h3.0V1574zM1276.5 1574V1347.8h3.0V1574zM1282.5 1574V1370.8h3.0V1574zM1288.5 1574V1434.6h3.0V1574zM1294.5 1574V1331.8h3.0V1574zM1300.5 1574V1431.6h3.0V1574zM1306.4 1574V1454.4h3.0V1574zM1312.4 1574V1439.6h3.0V1574zM1318.4 1574V1442.6h3.0V1574zM1324.4 1574V1467.8h3.0V1574zM1330.4 1574V1434.6h3.0V1574zM1336.3 1574V1488.4h3.0V1574zM1342.3 1574V1478.7h3.0V1574zM1348.3 1574V1483.1h3.0V1574zM1354.3 1574V1507.0h3.0V1574zM1360.3 1574V1501.7h3.0V1574zM1366.2 1574V1489.0h3.0V1574zM1372.2 1574V1499.0h3.0V1574zM1378.2 1574V1529.9h3.0V1574zM1384.2 1574V1503.4h3.0V1574zM1390.2 1574V1517.2h3.0V1574zM1396.2 1574V1517.2h3.0V1574zM1402.1 1574V1521.6h3.0V1574zM1408.1 1574V1537.5h3.0V1574zM1414.1 1574V1517.2h3.0V1574zM1420.1 1574V1539.6h3.0V1574zM1426.0 1574V1502.0h3.0V1574zM1432.0 1574V1529.9h3.0V1574zM1438.0 1574V1537.5h3.0V1574zM1444.0 1574V1537.5h3.0V1574zM1450.0 1574V1537.5h3.0V1574zM1455.9 1574V1549.7h3.0V1574zM1461.9 1574V1544.4h3.0V1574zM1467.9 1574V1534.8h3.0V1574zM1473.9 1574V1555.5h3.0V1574zM1479.9 1574V1540.0h3.0V1574zM1485.8 1574V1543.3h3.0V1574zM1491.8 1574V1555.6h3.0V1574zM1497.8 1574V1558.1h3.0V1574zM1503.8 1574V1558.1h3.0V1574zM1509.8 1574V1560.9h3.0V1574zM1515.8 1574V1544.9h3.0V1574zM1521.7 1574V1555.6h3.0V1574zM1527.7 1574V1555.6h3.0V1574zM1533.7 1574V1558.1h3.0V1574zM1539.7 1574V1553.2h3.0V1574zM1545.7 1574V1549.9h3.0V1574zM1551.6 1574V1555.6h3.0V1574zM1557.6 1574V1558.1h3.0V1574zM1563.6 1574V1549.9h3.0V1574zM1569.6 1574V1544.9h3.0V1574zM1575.5 1574V1566.3h3.0V1574zM1581.5 1574V1560.9h3.0V1574zM1587.5 1574V1566.3h3.0V1574zM1593.5 1574V1566.3h3.0V1574zM1599.5 1574V1567.9h3.0V1574zM1605.4 1574V1563.0h3.0V1574zM1611.4 1574V1567.9h3.0V1574zM1617.4 1574V1567.9h3.0V1574zM1623.4 1574V1560.9h3.0V1574zM1629.4 1574V1563.8h3.0V1574zM1635.3 1574V1562.2h3.0V1574zM1641.3 1574V1560.9h3.0V1574z" fill="#dc0a3c"/>
<path d="M689.8 1574V1057.8h4.4V1574M695.8 1574V1558.6h4.4V1574M701.8 1574V1567.8h4.4V1574M707.8 1574V1558.6h4.4V1574M713.7 1574V1561.7h4.4V1574M719.7 1574V1563.3h4.4V1574M725.7 1574V1561.7h4.4V1574M731.7 1574V1571.4h4.4V1574M737.6 1574V1568.3h4.4V1574M743.6 1574V1558.6h4.4V1574M749.6 1574V1566.8h4.4V1574M761.6 1574V1571.4h4.4V1574M767.5 1574V1566.8h4.4V1574M773.5 1574V1563.3h4.4V1574M779.5 1574V1571.4h4.4V1574M785.5 1574V1571.4h4.4V1574M791.5 1574V1571.4h4.4V1574M797.4 1574V1571.4h4.4V1574M803.4 1574V1571.4h4.4V1574M809.4 1574V1568.3h4.4V1574M815.4 1574V1568.3h4.4V1574M833.3 1574V1568.3h4.4V1574M839.3 1574V1561.7h4.4V1574M845.3 1574V1571.4h4.4V1574M851.3 1574V1566.8h4.4V1574M863.2 1574V1571.4h4.4V1574M887.1 1574V1571.4h4.4V1574M976.8 1574V1568.3h4.4V1574M982.8 1574V1566.8h4.4V1574M988.8 1574V1571.0h4.4V1574M1000.8 1574V1566.8h4.4V1574M1006.8 1574V1561.8h4.4V1574M1012.7 1574V1566.8h4.4V1574M1018.7 1574V1571.8h4.4V1574M1024.7 1574V1571.8h4.4V1574M1030.7 1574V1545.7h4.4V1574M1036.6 1574V1563.9h4.4V1574M1042.6 1574V1543.7h4.4V1574M1048.6 1574V1540.6h4.4V1574M1054.6 1574V1536.2h4.4V1574M1060.6 1574V1518.0h4.4V1574M1066.5 1574V1502.8h4.4V1574M1072.5 1574V1514.9h4.4V1574M1078.5 1574V1484.6h4.4V1574M1084.5 1574V1486.4h4.4V1574M1090.5 1574V1497.7h4.4V1574M1096.5 1574V1468.8h4.4V1574M1102.4 1574V1443.5h4.4V1574M1108.4 1574V1425.8h4.4V1574M1114.4 1574V1386.5h4.4V1574M1120.4 1574V1394.6h4.4V1574M1126.3 1574V1348.5h4.4V1574M1132.3 1574V1368.7h4.4V1574M1138.3 1574V1317.6h4.4V1574M1144.3 1574V1260.5h4.4V1574M1150.3 1574V1248.8h4.4V1574M1156.2 1574V1207.9h4.4V1574M1162.2 1574V1171.5h4.4V1574M1168.2 1574V1194.4h4.4V1574M1174.2 1574V1184.7h4.4V1574M1180.2 1574V1122.6h4.4V1574M1186.1 1574V1173.6h4.4V1574M1192.1 1574V1194.4h4.4V1574M1198.1 1574V1137.6h4.4V1574M1204.1 1574V1212.6h4.4V1574M1210.1 1574V1166.9h4.4V1574M1216.0 1574V1214.0h4.4V1574M1222.0 1574V1153.7h4.4V1574M1228.0 1574V1191.8h4.4V1574M1234.0 1574V1220.1h4.4V1574M1240.0 1574V1291.6h4.4V1574M1246.0 1574V1294.3h4.4V1574M1251.9 1574V1322.2h4.4V1574M1257.9 1574V1304.9h4.4V1574M1263.9 1574V1286.7h4.4V1574M1269.9 1574V1353.4h4.4V1574M1275.8 1574V1348.6h4.4V1574M1281.8 1574V1371.6h4.4V1574M1287.8 1574V1435.4h4.4V1574M1293.8 1574V1332.6h4.4V1574M1299.8 1574V1432.4h4.4V1574M1305.7 1574V1455.2h4.4V1574M1311.7 1574V1440.4h4.4V1574M1317.7 1574V1443.4h4.4V1574M1323.7 1574V1468.6h4.4V1574M1329.7 1574V1435.4h4.4V1574M1335.6 1574V1489.2h4.4V1574M1341.6 1574V1479.5h4.4V1574M1347.6 1574V1483.9h4.4V1574M1353.6 1574V1507.8h4.4V1574M1359.6 1574V1502.5h4.4V1574M1365.5 1574V1489.8h4.4V1574M1371.5 1574V1499.8h4.4V1574M1377.5 1574V1530.7h4.4V1574M1383.5 1574V1504.2h4.4V1574M1389.5 1574V1518.0h4.4V1574M1395.5 1574V1518.0h4.4V1574M1401.4 1574V1522.4h4.4V1574M1407.4 1574V1538.3h4.4V1574M1413.4 1574V1518.0h4.4V1574M1419.4 1574V1540.4h4.4V1574M1425.3 1574V1502.8h4.4V1574M1431.3 1574V1530.7h4.4V1574M1437.3 1574V1538.3h4.4V1574M1443.3 1574V1538.3h4.4V1574M1449.3 1574V1538.3h4.4V1574M1455.2 1574V1550.5h4.4V1574M1461.2 1574V1545.2h4.4V1574M1467.2 1574V1535.6h4.4V1574M1473.2 1574V1556.3h4.4V1574M1479.2 1574V1540.8h4.4V1574M1485.1 1574V1544.1h4.4V1574M1491.1 1574V1556.4h4.4V1574M1497.1 1574V1558.9h4.4V1574M1503.1 1574V1558.9h4.4V1574M1509.1 1574V1561.7h4.4V1574M1515.0 1574V1545.7h4.4V1574M1521.0 1574V1556.4h4.4V1574M1527.0 1574V1556.4h4.4V1574M1533.0 1574V1558.9h4.4V1574M1539.0 1574V1554.0h4.4V1574M1545.0 1574V1550.7h4.4V1574M1550.9 1574V1556.4h4.4V1574M1556.9 1574V1558.9h4.4V1574M1562.9 1574V1550.7h4.4V1574M1568.9 1574V1545.7h4.4V1574M1574.8 1574V1567.1h4.4V1574M1580.8 1574V1561.7h4.4V1574M1586.8 1574V1567.1h4.4V1574M1592.8 1574V1567.1h4.4V1574M1598.8 1574V1568.7h4.4V1574M1604.7 1574V1563.8h4.4V1574M1610.7 1574V1568.7h4.4V1574M1616.7 1574V1568.7h4.4V1574M1622.7 1574V1558.9h4.4V1574M1628.7 1574V1563.8h4.4V1574M1634.6 1574V1561.7h4.4V1574M1640.6 1574V1561.7h4.4V1574M1646.6 1574V1553.5h4.4V1574" fill="none" stroke="#0c00d8" stroke-width="1.6"/>
<rect x="691.2" y="1057.0" width="3.8" height="517.0" fill="#0a00a0"/>
<rect x="1645.8" y="1552.7" width="3.8" height="21.3" fill="#0a00a0"/>
</g>
<path class="k" d="M692.0 1574H1648.8V872"/>
<path class="k" d="M692.0 1574v10"/>
<text x="692.0" y="1621.5" text-anchor="middle">-4</text>
<path class="k" d="M811.6 1574v10"/>
<path class="k" d="M931.2 1574v10"/>
<text x="931.2" y="1621.5" text-anchor="middle">0</text>
<path class="k" d="M1050.8 1574v10"/>
<path class="k" d="M1170.4 1574v10"/>
<text x="1170.4" y="1621.5" text-anchor="middle">4</text>
<path class="k" d="M1290.0 1574v10"/>
<path class="k" d="M1409.6 1574v10"/>
<text x="1409.6" y="1621.5" text-anchor="middle">8</text>
<path class="k" d="M1529.2 1574v10"/>
<path class="k" d="M1648.8 1574v10"/>
<text x="1648.8" y="1621.5" text-anchor="middle">12</text>
<path class="k" d="M1648.8 1574.0h10"/>
<text x="1669.8" y="1584.0">0</text>
<path class="k" d="M1648.8 1433.2h10"/>
<text x="1669.8" y="1443.2">1</text>
<path class="k" d="M1648.8 1292.8h10"/>
<text x="1669.8" y="1302.8">2</text>
<path class="k" d="M1648.8 1152.4h10"/>
<text x="1669.8" y="1162.4">3</text>
<path class="k" d="M1648.8 1012.0h10"/>
<text x="1669.8" y="1022.0">4</text>
<path class="k" d="M1648.8 872.0h10"/>
<text x="1669.8" y="882.0">5</text>
<text transform="translate(1728 1223) rotate(-90)" text-anchor="middle">Frequency (%)</text>
<text x="1168.5" y="1672" text-anchor="middle">S<tspan dy="14" style="font-size:21px">T</tspan><tspan dy="-14"> (days </tspan><tspan dy="-14" style="font-size:20px">o</tspan><tspan dy="14">C</tspan><tspan dy="-14" style="font-size:20px">-1</tspan><tspan dy="14">)</tspan></text>
<rect x="735.5" y="904.5" width="123" height="34" fill="#fe0000"/>
<rect x="736" y="950.5" width="122" height="33" fill="#fff" stroke="#0c08b4" stroke-width="1.8"/>
<text x="871.5" y="935.7">1980-1994 mean: 6.0 (2.7) days <tspan dy="-14" style="font-size:20px">o</tspan><tspan dy="14">C</tspan><tspan dy="-14" style="font-size:20px">-1</tspan></text>
<text x="871.5" y="981.2">1999-2013 mean: 4.6 (3.3) days <tspan dy="-14" style="font-size:20px">o</tspan><tspan dy="14">C</tspan><tspan dy="-14" style="font-size:20px">-1</tspan></text>
<text class="b" x="1277.2" y="1142.4" text-anchor="middle" style="font-size:73px">*</text>
</g>
<g>
<text class="b" x="10" y="1748.5" style="font-size:30px">c</text>
<rect x="125.1" y="1730.0" width="16.8" height="70.7" fill="#4f8db0"/>
<rect x="125.1" y="1800.2" width="16.8" height="70.7" fill="#73a6be"/>
<rect x="125.1" y="1870.4" width="16.8" height="70.7" fill="#97bdca"/>
<rect x="125.1" y="1940.6" width="16.8" height="70.7" fill="#b9d7db"/>
<rect x="125.1" y="2010.8" width="16.8" height="70.7" fill="#deede6"/>
<rect x="125.1" y="2081.0" width="16.8" height="70.7" fill="#fcebe4"/>
<rect x="125.1" y="2151.2" width="16.8" height="70.7" fill="#f0c1c5"/>
<rect x="125.1" y="2221.4" width="16.8" height="70.7" fill="#e5929f"/>
<rect x="125.1" y="2291.6" width="16.8" height="70.7" fill="#db667c"/>
<rect x="125.1" y="2361.8" width="16.8" height="70.7" fill="#d03a5a"/>
<rect class="k" x="125.1" y="1730" width="16.8" height="702"/>
<text x="113" y="1739.2" text-anchor="end">&gt;5</text>
<path class="k" d="M125.1 1870.4h7.8M141.9 1870.4h-7.8" style="stroke-width:1.7"/>
<text x="113" y="1879.6" text-anchor="end">3</text>
<path class="k" d="M125.1 2010.8h7.8M141.9 2010.8h-7.8" style="stroke-width:1.7"/>
<text x="113" y="2020.0" text-anchor="end">1</text>
<path class="k" d="M125.1 2151.2h7.8M141.9 2151.2h-7.8" style="stroke-width:1.7"/>
<text x="113" y="2160.4" text-anchor="end">-1</text>
<path class="k" d="M125.1 2291.6h7.8M141.9 2291.6h-7.8" style="stroke-width:1.7"/>
<text x="113" y="2300.8" text-anchor="end">-3</text>
<text x="113" y="2441.2" text-anchor="end">&lt;-5</text>
<text transform="translate(31.5 2082) rotate(-90)" text-anchor="middle">S<tspan dy="14" style="font-size:21px">T</tspan><tspan dy="-14"> (days </tspan><tspan dy="-14" style="font-size:20px">o</tspan><tspan dy="14">C</tspan><tspan dy="-14" style="font-size:20px">-1</tspan><tspan dy="14">)</tspan></text>
<rect class="k" x="196.0" y="1730" width="372.0" height="702"/>
<path class="k" d="M242.1 1730v6M242.1 2432v-6"/>
<text transform="translate(254.1 2462) rotate(-30)" text-anchor="end">1980-2013</text>
<path class="k" d="M196.0 1772.9h6M568.0 1772.9h-7"/>
<text x="613" y="1771.8" text-anchor="middle">AG</text>
<text class="s" x="613" y="1800.6" text-anchor="middle">(656)</text>
<rect x="202.2" y="1733.0" width="79.8" height="79.8" fill="#73a6be"/>
<text x="242.1" y="1766.8" text-anchor="middle">3.7</text>
<text x="242.1" y="1799.7" text-anchor="middle">(1.4)</text>
<path class="k" d="M196.0 1860.7h6M568.0 1860.7h-7"/>
<text x="613" y="1859.6" text-anchor="middle">BP</text>
<text class="s" x="613" y="1888.4" text-anchor="middle">(1,159)</text>
<rect x="202.2" y="1820.8" width="79.8" height="79.8" fill="#73a6be"/>
<text x="242.1" y="1854.6" text-anchor="middle">3.9</text>
<text x="242.1" y="1887.5" text-anchor="middle">(0.9)</text>
<path class="k" d="M196.0 1948.6h6M568.0 1948.6h-7"/>
<text x="613" y="1947.5" text-anchor="middle">AH</text>
<text class="s" x="613" y="1976.3" text-anchor="middle">(1,172)</text>
<rect x="202.2" y="1908.7" width="79.8" height="79.8" fill="#73a6be"/>
<text x="242.1" y="1942.5" text-anchor="middle">3.7</text>
<text x="242.1" y="1975.4" text-anchor="middle">(1.0)</text>
<path class="k" d="M196.0 2036.4h6M568.0 2036.4h-7"/>
<text x="613" y="2035.3" text-anchor="middle">FS</text>
<text class="s" x="613" y="2064.1" text-anchor="middle">(828)</text>
<rect x="202.2" y="1996.5" width="79.8" height="79.8" fill="#97bdca"/>
<text x="242.1" y="2030.3" text-anchor="middle">3.0</text>
<text x="242.1" y="2063.2" text-anchor="middle">(1.0)</text>
<path class="k" d="M196.0 2124.3h6M568.0 2124.3h-7"/>
<text x="613" y="2123.2" text-anchor="middle">TC</text>
<text class="s" x="613" y="2152.0" text-anchor="middle">(26)</text>
<rect x="202.2" y="2084.4" width="79.8" height="79.8" fill="#73a6be"/>
<text x="242.1" y="2118.2" text-anchor="middle">3.7</text>
<text x="242.1" y="2151.1" text-anchor="middle">(1.3)</text>
<path class="k" d="M196.0 2212.1h6M568.0 2212.1h-7"/>
<text x="613" y="2211.0" text-anchor="middle">QR</text>
<text class="s" x="613" y="2239.8" text-anchor="middle">(1,001)</text>
<rect x="202.2" y="2172.2" width="79.8" height="79.8" fill="#73a6be"/>
<text x="242.1" y="2206.0" text-anchor="middle">4.0</text>
<text x="242.1" y="2238.9" text-anchor="middle">(1.3)</text>
<path class="k" d="M196.0 2299.9h6M568.0 2299.9h-7"/>
<text x="613" y="2298.8" text-anchor="middle">FE</text>
<text class="s" x="613" y="2327.6" text-anchor="middle">(630)</text>
<rect x="202.2" y="2260.0" width="79.8" height="79.8" fill="#73a6be"/>
<text x="242.1" y="2293.8" text-anchor="middle">3.6</text>
<text x="242.1" y="2326.7" text-anchor="middle">(1.4)</text>
<path class="k" d="M196.0 2387.8h6M568.0 2387.8h-7"/>
<text x="613" y="2386.7" text-anchor="middle">All</text>
<text class="s" x="613" y="2415.5" text-anchor="middle">(5,472)</text>
<rect x="202.2" y="2347.9" width="79.8" height="79.8" fill="#73a6be"/>
<text x="242.1" y="2381.7" text-anchor="middle">3.7</text>
<text x="242.1" y="2414.6" text-anchor="middle">(1.2)</text>
<path class="k" d="M335.0 1730v6M335.0 2432v-6"/>
<text transform="translate(347.0 2462) rotate(-30)" text-anchor="end">1980-1994</text>
<rect x="295.1" y="1733.0" width="79.8" height="79.8" fill="#4f8db0"/>
<text x="335.0" y="1766.8" text-anchor="middle">4.1</text>
<text x="335.0" y="1799.7" text-anchor="middle">(2.3)</text>
<rect x="295.1" y="1820.8" width="79.8" height="79.8" fill="#4f8db0"/>
<text x="335.0" y="1854.6" text-anchor="middle">4.4</text>
<text x="335.0" y="1887.5" text-anchor="middle">(1.4)</text>
<rect x="295.1" y="1908.7" width="79.8" height="79.8" fill="#4f8db0"/>
<text x="335.0" y="1942.5" text-anchor="middle">4.2</text>
<text x="335.0" y="1975.4" text-anchor="middle">(1.4)</text>
<rect x="295.1" y="1996.5" width="79.8" height="79.8" fill="#73a6be"/>
<text x="335.0" y="2030.3" text-anchor="middle">3.1</text>
<text x="335.0" y="2063.2" text-anchor="middle">(1.6)</text>
<rect x="295.1" y="2084.4" width="79.8" height="79.8" fill="#4f8db0"/>
<text x="335.0" y="2118.2" text-anchor="middle">4.3</text>
<text x="335.0" y="2151.1" text-anchor="middle">(2.7)</text>
<rect x="295.1" y="2172.2" width="79.8" height="79.8" fill="#4f8db0"/>
<text x="335.0" y="2206.0" text-anchor="middle">4.2</text>
<text x="335.0" y="2238.9" text-anchor="middle">(1.9)</text>
<rect x="295.1" y="2260.0" width="79.8" height="79.8" fill="#73a6be"/>
<text x="335.0" y="2293.8" text-anchor="middle">3.8</text>
<text x="335.0" y="2326.7" text-anchor="middle">(2.0)</text>
<rect x="295.1" y="2347.9" width="79.8" height="79.8" fill="#4f8db0"/>
<text x="335.0" y="2381.7" text-anchor="middle">4.0</text>
<text x="335.0" y="2414.6" text-anchor="middle">(1.8)</text>
<path class="k" d="M427.9 1730v6M427.9 2432v-6"/>
<text transform="translate(439.9 2462) rotate(-30)" text-anchor="end">1999-2013</text>
<rect x="388.0" y="1733.0" width="79.8" height="79.8" fill="#97bdca"/>
<text x="427.9" y="1766.8" text-anchor="middle">3.0</text>
<text x="427.9" y="1799.7" text-anchor="middle">(1.8)</text>
<rect x="388.0" y="1820.8" width="79.8" height="79.8" fill="#73a6be"/>
<text x="427.9" y="1854.6" text-anchor="middle">3.3</text>
<text x="427.9" y="1887.5" text-anchor="middle">(1.5)</text>
<rect x="388.0" y="1908.7" width="79.8" height="79.8" fill="#97bdca"/>
<text x="427.9" y="1942.5" text-anchor="middle">3.0</text>
<text x="427.9" y="1975.4" text-anchor="middle">(1.3)</text>
<rect x="388.0" y="1996.5" width="79.8" height="79.8" fill="#97bdca"/>
<text x="427.9" y="2030.3" text-anchor="middle">2.5</text>
<text x="427.9" y="2063.2" text-anchor="middle">(1.4)</text>
<rect x="388.0" y="2084.4" width="79.8" height="79.8" fill="#97bdca"/>
<text x="427.9" y="2118.2" text-anchor="middle">2.9</text>
<text x="427.9" y="2151.1" text-anchor="middle">(1.3)</text>
<rect x="388.0" y="2172.2" width="79.8" height="79.8" fill="#73a6be"/>
<text x="427.9" y="2206.0" text-anchor="middle">3.3</text>
<text x="427.9" y="2238.9" text-anchor="middle">(1.5)</text>
<rect x="388.0" y="2260.0" width="79.8" height="79.8" fill="#97bdca"/>
<text x="427.9" y="2293.8" text-anchor="middle">2.4</text>
<text x="427.9" y="2326.7" text-anchor="middle">(1.7)</text>
<rect x="388.0" y="2347.9" width="79.8" height="79.8" fill="#97bdca"/>
<text x="427.9" y="2381.7" text-anchor="middle">3.0</text>
<text x="427.9" y="2414.6" text-anchor="middle">(1.5)</text>
<path class="k" d="M520.8 1730v6M520.8 2432v-6"/>
<text transform="translate(532.8 2462) rotate(-30)" text-anchor="end">Difference</text>
<rect x="480.9" y="1733.0" width="79.8" height="79.8" fill="#f0c1c5" stroke="#000" stroke-width="1.9"/>
<text x="520.8" y="1783.7" text-anchor="middle">-1.1</text>
<rect x="480.9" y="1820.8" width="79.8" height="79.8" fill="#f0c1c5" stroke="#000" stroke-width="1.9"/>
<text x="520.8" y="1871.5" text-anchor="middle">-1.2</text>
<rect x="480.9" y="1908.7" width="79.8" height="79.8" fill="#f0c1c5" stroke="#000" stroke-width="1.9"/>
<text x="520.8" y="1959.4" text-anchor="middle">-1.2</text>
<rect x="480.9" y="1996.5" width="79.8" height="79.8" fill="#fcebe4" stroke="#000" stroke-width="1.9"/>
<text x="520.8" y="2047.2" text-anchor="middle">-0.6</text>
<rect x="480.9" y="2084.4" width="79.8" height="79.8" fill="#f0c1c5" stroke="#000" stroke-width="1.9"/>
<text x="520.8" y="2135.1" text-anchor="middle">-1.3</text>
<rect x="480.9" y="2172.2" width="79.8" height="79.8" fill="#fcebe4" stroke="#000" stroke-width="1.9"/>
<text x="520.8" y="2222.9" text-anchor="middle">-0.9</text>
<rect x="480.9" y="2260.0" width="79.8" height="79.8" fill="#f0c1c5" stroke="#000" stroke-width="1.9"/>
<text x="520.8" y="2310.7" text-anchor="middle">-1.4</text>
<rect x="480.9" y="2347.9" width="79.8" height="79.8" fill="#f0c1c5" stroke="#000" stroke-width="1.9"/>
<text x="520.8" y="2398.6" text-anchor="middle">-1.1</text>
<rect class="k" x="692.0" y="1730" width="956.8" height="702"/>
<clipPath id="cpc"><rect x="692.0" y="1730" width="956.8" height="702"/></clipPath>
<g clip-path="url(#cpc)">
<path d="M742.8 2432V2429.5h6.3V2432zM772.7 2432V2426.7h6.3V2432zM808.6 2432V2429.5h6.3V2432zM832.5 2432V2421.3h6.3V2432zM844.5 2432V2429.5h6.3V2432zM850.5 2432V2430.0h6.3V2432zM862.4 2432V2426.7h6.3V2432zM868.4 2432V2429.5h6.3V2432zM874.4 2432V2414.3h6.3V2432zM880.4 2432V2426.7h6.3V2432zM892.3 2432V2426.3h6.3V2432zM898.3 2432V2421.3h6.3V2432zM904.3 2432V2419.2h6.3V2432zM910.3 2432V2424.1h6.3V2432zM916.2 2432V2426.3h6.3V2432zM922.2 2432V2424.1h6.3V2432zM928.2 2432V2416.1h6.3V2432zM934.2 2432V2406.0h6.3V2432zM940.2 2432V2419.0h6.3V2432zM946.1 2432V2410.8h6.3V2432zM952.1 2432V2400.9h6.3V2432zM958.1 2432V2413.7h6.3V2432zM964.1 2432V2377.5h6.3V2432zM970.1 2432V2410.8h6.3V2432zM976.0 2432V2383.1h6.3V2432zM982.0 2432V2361.9h6.3V2432zM988.0 2432V2387.7h6.3V2432zM994.0 2432V2343.8h6.3V2432zM1000.0 2432V2343.8h6.3V2432zM1006.0 2432V2339.0h6.3V2432zM1011.9 2432V2318.5h6.3V2432zM1017.9 2432V2341.9h6.3V2432zM1023.9 2432V2325.7h6.3V2432zM1029.9 2432V2292.5h6.3V2432zM1035.8 2432V2310.6h6.3V2432zM1041.8 2432V2225.7h6.3V2432zM1047.8 2432V2284.8h6.3V2432zM1053.8 2432V2256.3h6.3V2432zM1059.8 2432V2220.4h6.3V2432zM1065.8 2432V2213.0h6.3V2432zM1071.7 2432V2238.5h6.3V2432zM1077.7 2432V2210.8h6.3V2432zM1083.7 2432V2230.6h6.3V2432zM1089.7 2432V2179.5h6.3V2432zM1095.7 2432V2194.4h6.3V2432zM1101.6 2432V2194.4h6.3V2432zM1107.6 2432V2153.4h6.3V2432zM1113.6 2432V2123.3h6.3V2432zM1119.6 2432V2130.6h6.3V2432zM1125.5 2432V2135.4h6.3V2432zM1131.5 2432V2061.4h6.3V2432zM1137.5 2432V2051.8h6.3V2432zM1143.5 2432V2079.5h6.3V2432zM1149.5 2432V2106.5h6.3V2432zM1155.5 2432V2097.5h6.3V2432zM1161.4 2432V2079.5h6.3V2432zM1167.4 2432V2096.8h6.3V2432zM1173.4 2432V2046.2h6.3V2432zM1179.4 2432V2153.6h6.3V2432zM1185.3 2432V2102.4h6.3V2432zM1191.3 2432V2058.3h6.3V2432zM1197.3 2432V2079.1h6.3V2432zM1203.3 2432V2138.1h6.3V2432zM1209.3 2432V2064.1h6.3V2432zM1215.2 2432V2123.1h6.3V2432zM1221.2 2432V2102.4h6.3V2432zM1227.2 2432V2117.1h6.3V2432zM1233.2 2432V2117.1h6.3V2432zM1239.2 2432V2161.2h6.3V2432zM1245.2 2432V2243.2h6.3V2432zM1251.1 2432V2169.5h6.3V2432zM1257.1 2432V2228.2h6.3V2432zM1263.1 2432V2251.0h6.3V2432zM1269.1 2432V2277.4h6.3V2432zM1275.0 2432V2284.2h6.3V2432zM1281.0 2432V2277.4h6.3V2432zM1287.0 2432V2279.2h6.3V2432zM1293.0 2432V2292.4h6.3V2432zM1299.0 2432V2315.0h6.3V2432zM1304.9 2432V2336.2h6.3V2432zM1310.9 2432V2351.2h6.3V2432zM1316.9 2432V2341.5h6.3V2432zM1322.9 2432V2338.3h6.3V2432zM1328.9 2432V2338.3h6.3V2432zM1334.8 2432V2369.2h6.3V2432zM1340.8 2432V2369.2h6.3V2432zM1346.8 2432V2389.1h6.3V2432zM1352.8 2432V2366.5h6.3V2432zM1358.8 2432V2384.2h6.3V2432zM1364.8 2432V2387.4h6.3V2432zM1370.7 2432V2397.4h6.3V2432zM1376.7 2432V2405.4h6.3V2432zM1382.7 2432V2405.4h6.3V2432zM1388.7 2432V2407.3h6.3V2432zM1394.7 2432V2405.4h6.3V2432zM1400.6 2432V2400.6h6.3V2432zM1406.6 2432V2413.3h6.3V2432zM1412.6 2432V2419.2h6.3V2432zM1418.6 2432V2398.2h6.3V2432zM1424.5 2432V2411.0h6.3V2432zM1430.5 2432V2424.4h6.3V2432zM1436.5 2432V2429.4h6.3V2432zM1442.5 2432V2416.2h6.3V2432zM1448.5 2432V2419.2h6.3V2432zM1454.4 2432V2421.2h6.3V2432zM1460.4 2432V2424.4h6.3V2432zM1466.4 2432V2416.2h6.3V2432zM1472.4 2432V2426.1h6.3V2432zM1478.4 2432V2419.2h6.3V2432zM1484.3 2432V2419.2h6.3V2432zM1490.3 2432V2424.4h6.3V2432zM1496.3 2432V2426.1h6.3V2432zM1508.3 2432V2421.2h6.3V2432zM1520.2 2432V2426.1h6.3V2432zM1526.2 2432V2427.7h6.3V2432zM1532.2 2432V2424.4h6.3V2432zM1538.2 2432V2429.4h6.3V2432zM1550.1 2432V2426.1h6.3V2432zM1556.1 2432V2424.4h6.3V2432zM1562.1 2432V2426.1h6.3V2432zM1568.1 2432V2429.4h6.3V2432zM1574.0 2432V2429.4h6.3V2432zM1580.0 2432V2429.4h6.3V2432zM1592.0 2432V2429.4h6.3V2432zM1609.9 2432V2429.4h6.3V2432zM1615.9 2432V2424.4h6.3V2432zM1621.9 2432V2429.4h6.3V2432zM1633.8 2432V2426.1h6.3V2432z" fill="#fe0000"/>
<path d="M810.1 2432V2429.5h3.0V2432zM834.0 2432V2423.8h3.0V2432zM846.0 2432V2429.5h3.0V2432zM852.0 2432V2430.0h3.0V2432zM863.9 2432V2426.7h3.0V2432zM869.9 2432V2429.5h3.0V2432zM875.9 2432V2419.7h3.0V2432zM881.9 2432V2426.7h3.0V2432zM893.8 2432V2426.3h3.0V2432zM899.8 2432V2421.3h3.0V2432zM905.8 2432V2419.2h3.0V2432zM911.8 2432V2424.1h3.0V2432zM917.8 2432V2426.3h3.0V2432zM923.7 2432V2424.1h3.0V2432zM929.7 2432V2416.1h3.0V2432zM935.7 2432V2406.0h3.0V2432zM941.7 2432V2419.0h3.0V2432zM947.6 2432V2410.8h3.0V2432zM953.6 2432V2400.9h3.0V2432zM959.6 2432V2413.7h3.0V2432zM965.6 2432V2377.5h3.0V2432zM971.6 2432V2410.8h3.0V2432zM977.5 2432V2383.1h3.0V2432zM983.5 2432V2361.9h3.0V2432zM989.5 2432V2387.7h3.0V2432zM995.5 2432V2343.8h3.0V2432zM1001.5 2432V2343.8h3.0V2432zM1007.5 2432V2339.0h3.0V2432zM1013.4 2432V2318.5h3.0V2432zM1019.4 2432V2341.9h3.0V2432zM1025.4 2432V2325.7h3.0V2432zM1031.4 2432V2292.5h3.0V2432zM1037.3 2432V2310.6h3.0V2432zM1043.3 2432V2225.7h3.0V2432zM1049.3 2432V2284.8h3.0V2432zM1055.3 2432V2256.3h3.0V2432zM1061.3 2432V2220.4h3.0V2432zM1067.2 2432V2213.0h3.0V2432zM1073.2 2432V2238.5h3.0V2432zM1079.2 2432V2210.8h3.0V2432zM1085.2 2432V2230.6h3.0V2432zM1091.2 2432V2179.5h3.0V2432zM1097.2 2432V2194.4h3.0V2432zM1103.1 2432V2194.4h3.0V2432zM1109.1 2432V2153.4h3.0V2432zM1115.1 2432V2123.3h3.0V2432zM1121.1 2432V2130.6h3.0V2432zM1127.0 2432V2135.4h3.0V2432zM1133.0 2432V2061.4h3.0V2432zM1139.0 2432V2051.8h3.0V2432zM1145.0 2432V2082.8h3.0V2432zM1151.0 2432V2106.5h3.0V2432zM1157.0 2432V2097.5h3.0V2432zM1162.9 2432V2118.0h3.0V2432zM1168.9 2432V2096.8h3.0V2432zM1174.9 2432V2139.0h3.0V2432zM1180.9 2432V2166.8h3.0V2432zM1186.8 2432V2219.2h3.0V2432zM1192.8 2432V2267.4h3.0V2432zM1198.8 2432V2260.0h3.0V2432zM1204.8 2432V2310.6h3.0V2432zM1210.8 2432V2289.8h3.0V2432zM1216.8 2432V2338.8h3.0V2432zM1222.7 2432V2316.3h3.0V2432zM1228.7 2432V2349.1h3.0V2432zM1234.7 2432V2331.3h3.0V2432zM1240.7 2432V2361.8h3.0V2432zM1246.7 2432V2387.7h3.0V2432zM1252.6 2432V2365.3h3.0V2432zM1258.6 2432V2343.8h3.0V2432zM1264.6 2432V2372.0h3.0V2432zM1270.6 2432V2383.0h3.0V2432zM1276.5 2432V2378.0h3.0V2432zM1282.5 2432V2402.7h3.0V2432zM1288.5 2432V2405.0h3.0V2432zM1294.5 2432V2405.0h3.0V2432zM1300.5 2432V2415.6h3.0V2432zM1306.4 2432V2411.2h3.0V2432zM1312.4 2432V2420.9h3.0V2432zM1318.4 2432V2411.2h3.0V2432zM1324.4 2432V2405.9h3.0V2432zM1330.4 2432V2413.8h3.0V2432zM1336.3 2432V2423.9h3.0V2432zM1342.3 2432V2425.3h3.0V2432zM1348.3 2432V2423.9h3.0V2432zM1354.3 2432V2416.1h3.0V2432zM1360.3 2432V2425.3h3.0V2432zM1366.2 2432V2419.1h3.0V2432zM1372.2 2432V2425.3h3.0V2432zM1378.2 2432V2425.3h3.0V2432zM1384.2 2432V2428.5h3.0V2432zM1390.2 2432V2423.9h3.0V2432zM1396.2 2432V2419.1h3.0V2432zM1402.1 2432V2425.3h3.0V2432zM1408.1 2432V2427.9h3.0V2432zM1414.1 2432V2421.2h3.0V2432zM1420.1 2432V2424.4h3.0V2432zM1426.0 2432V2424.4h3.0V2432zM1432.0 2432V2424.4h3.0V2432zM1438.0 2432V2429.4h3.0V2432zM1450.0 2432V2421.2h3.0V2432zM1455.9 2432V2426.1h3.0V2432zM1461.9 2432V2424.4h3.0V2432zM1467.9 2432V2429.4h3.0V2432zM1473.9 2432V2429.4h3.0V2432zM1479.9 2432V2429.4h3.0V2432zM1485.8 2432V2429.4h3.0V2432zM1527.7 2432V2427.7h3.0V2432zM1533.7 2432V2429.4h3.0V2432zM1617.4 2432V2429.4h3.0V2432z" fill="#dc0a3c"/>
<path d="M689.8 2432V2401.9h4.4V2432M731.7 2432V2430.3h4.4V2432M749.6 2432V2430.3h4.4V2432M779.5 2432V2430.3h4.4V2432M791.5 2432V2427.5h4.4V2432M797.4 2432V2427.5h4.4V2432M803.4 2432V2427.5h4.4V2432M809.4 2432V2427.5h4.4V2432M821.4 2432V2427.5h4.4V2432M827.3 2432V2425.4h4.4V2432M833.3 2432V2424.6h4.4V2432M839.3 2432V2422.5h4.4V2432M845.3 2432V2420.5h4.4V2432M851.3 2432V2430.3h4.4V2432M857.2 2432V2427.5h4.4V2432M863.2 2432V2425.4h4.4V2432M869.2 2432V2415.6h4.4V2432M875.2 2432V2420.5h4.4V2432M881.2 2432V2425.4h4.4V2432M887.1 2432V2415.6h4.4V2432M893.1 2432V2402.4h4.4V2432M899.1 2432V2412.8h4.4V2432M905.1 2432V2391.4h4.4V2432M911.1 2432V2391.4h4.4V2432M917.0 2432V2417.7h4.4V2432M923.0 2432V2397.5h4.4V2432M929.0 2432V2365.6h4.4V2432M935.0 2432V2383.9h4.4V2432M941.0 2432V2390.9h4.4V2432M946.9 2432V2372.8h4.4V2432M952.9 2432V2378.8h4.4V2432M958.9 2432V2361.0h4.4V2432M964.9 2432V2362.7h4.4V2432M970.9 2432V2378.8h4.4V2432M976.8 2432V2329.4h4.4V2432M982.8 2432V2335.0h4.4V2432M988.8 2432V2321.7h4.4V2432M994.8 2432V2308.9h4.4V2432M1000.8 2432V2280.8h4.4V2432M1006.8 2432V2312.1h4.4V2432M1012.7 2432V2244.6h4.4V2432M1018.7 2432V2275.9h4.4V2432M1024.7 2432V2272.8h4.4V2432M1030.7 2432V2213.8h4.4V2432M1036.6 2432V2126.5h4.4V2432M1042.6 2432V2170.6h4.4V2432M1048.6 2432V2183.9h4.4V2432M1054.6 2432V2098.8h4.4V2432M1060.6 2432V2052.6h4.4V2432M1066.5 2432V2057.9h4.4V2432M1072.5 2432V2006.8h4.4V2432M1078.5 2432V2049.9h4.4V2432M1084.5 2432V1977.9h4.4V2432M1090.5 2432V1926.5h4.4V2432M1096.5 2432V1923.6h4.4V2432M1102.4 2432V1977.9h4.4V2432M1108.4 2432V1965.6h4.4V2432M1114.4 2432V1968.0h4.4V2432M1120.4 2432V1952.6h4.4V2432M1126.3 2432V1998.8h4.4V2432M1132.3 2432V1895.7h4.4V2432M1138.3 2432V1995.9h4.4V2432M1144.3 2432V2083.6h4.4V2432M1150.3 2432V2024.8h4.4V2432M1156.2 2432V2072.8h4.4V2432M1162.2 2432V2118.8h4.4V2432M1168.2 2432V2089.2h4.4V2432M1174.2 2432V2139.8h4.4V2432M1180.2 2432V2167.6h4.4V2432M1186.1 2432V2220.0h4.4V2432M1192.1 2432V2268.2h4.4V2432M1198.1 2432V2260.8h4.4V2432M1204.1 2432V2311.4h4.4V2432M1210.1 2432V2290.6h4.4V2432M1216.0 2432V2339.6h4.4V2432M1222.0 2432V2317.1h4.4V2432M1228.0 2432V2349.9h4.4V2432M1234.0 2432V2332.1h4.4V2432M1240.0 2432V2362.6h4.4V2432M1246.0 2432V2388.5h4.4V2432M1251.9 2432V2366.1h4.4V2432M1257.9 2432V2344.6h4.4V2432M1263.9 2432V2372.8h4.4V2432M1269.9 2432V2383.8h4.4V2432M1275.8 2432V2378.8h4.4V2432M1281.8 2432V2403.5h4.4V2432M1287.8 2432V2405.8h4.4V2432M1293.8 2432V2405.8h4.4V2432M1299.8 2432V2416.4h4.4V2432M1305.7 2432V2412.0h4.4V2432M1311.7 2432V2421.7h4.4V2432M1317.7 2432V2412.0h4.4V2432M1323.7 2432V2406.7h4.4V2432M1329.7 2432V2414.6h4.4V2432M1335.6 2432V2424.7h4.4V2432M1341.6 2432V2426.1h4.4V2432M1347.6 2432V2424.7h4.4V2432M1353.6 2432V2416.9h4.4V2432M1359.6 2432V2426.1h4.4V2432M1365.5 2432V2419.9h4.4V2432M1371.5 2432V2426.1h4.4V2432M1377.5 2432V2426.1h4.4V2432M1383.5 2432V2429.3h4.4V2432M1389.5 2432V2424.7h4.4V2432M1395.5 2432V2419.9h4.4V2432M1401.4 2432V2426.1h4.4V2432M1407.4 2432V2428.7h4.4V2432M1413.4 2432V2422.0h4.4V2432M1419.4 2432V2425.2h4.4V2432M1425.3 2432V2425.2h4.4V2432M1431.3 2432V2425.2h4.4V2432M1437.3 2432V2425.2h4.4V2432M1449.3 2432V2422.0h4.4V2432M1455.2 2432V2426.9h4.4V2432M1461.2 2432V2425.2h4.4V2432M1467.2 2432V2430.2h4.4V2432M1473.2 2432V2430.2h4.4V2432M1479.2 2432V2430.2h4.4V2432M1485.1 2432V2430.2h4.4V2432M1515.0 2432V2430.2h4.4V2432M1527.0 2432V2427.2h4.4V2432M1533.0 2432V2430.2h4.4V2432M1545.0 2432V2430.2h4.4V2432M1616.7 2432V2430.2h4.4V2432" fill="none" stroke="#0c00d8" stroke-width="1.6"/>
<rect x="691.2" y="2401.1" width="3.8" height="30.9" fill="#0a00a0"/>
</g>
<path class="k" d="M692.0 2432H1648.8V1730"/>
<path class="k" d="M692.0 2432v10"/>
<text x="692.0" y="2479.5" text-anchor="middle">-4</text>
<path class="k" d="M811.6 2432v10"/>
<path class="k" d="M931.2 2432v10"/>
<text x="931.2" y="2479.5" text-anchor="middle">0</text>
<path class="k" d="M1050.8 2432v10"/>
<path class="k" d="M1170.4 2432v10"/>
<text x="1170.4" y="2479.5" text-anchor="middle">4</text>
<path class="k" d="M1290.0 2432v10"/>
<path class="k" d="M1409.6 2432v10"/>
<text x="1409.6" y="2479.5" text-anchor="middle">8</text>
<path class="k" d="M1529.2 2432v10"/>
<path class="k" d="M1648.8 2432v10"/>
<text x="1648.8" y="2479.5" text-anchor="middle">12</text>
<path class="k" d="M1648.8 2432.0h10"/>
<text x="1669.8" y="2442.0">0</text>
<path class="k" d="M1648.8 2291.2h10"/>
<text x="1669.8" y="2301.2">1</text>
<path class="k" d="M1648.8 2150.8h10"/>
<text x="1669.8" y="2160.8">2</text>
<path class="k" d="M1648.8 2010.4h10"/>
<text x="1669.8" y="2020.4">3</text>
<path class="k" d="M1648.8 1870.0h10"/>
<text x="1669.8" y="1880.0">4</text>
<path class="k" d="M1648.8 1730.0h10"/>
<text x="1669.8" y="1740.0">5</text>
<text transform="translate(1728 2081) rotate(-90)" text-anchor="middle">Frequency (%)</text>
<text x="1168.5" y="2530" text-anchor="middle">S<tspan dy="14" style="font-size:21px">T</tspan><tspan dy="-14"> (days </tspan><tspan dy="-14" style="font-size:20px">o</tspan><tspan dy="14">C</tspan><tspan dy="-14" style="font-size:20px">-1</tspan><tspan dy="14">)</tspan></text>
<rect x="735.5" y="1762.5" width="123" height="34" fill="#fe0000"/>
<rect x="736" y="1808.5" width="122" height="33" fill="#fff" stroke="#0c08b4" stroke-width="1.8"/>
<text x="871.5" y="1793.7">1980-1994 mean: 4.0 (1.8) days <tspan dy="-14" style="font-size:20px">o</tspan><tspan dy="14">C</tspan><tspan dy="-14" style="font-size:20px">-1</tspan></text>
<text x="871.5" y="1839.2">1999-2013 mean: 3.0 (1.5) days <tspan dy="-14" style="font-size:20px">o</tspan><tspan dy="14">C</tspan><tspan dy="-14" style="font-size:20px">-1</tspan></text>
<text class="b" x="1187.2" y="2000.4" text-anchor="middle" style="font-size:73px">*</text>
</g>
</svg></body></html>
